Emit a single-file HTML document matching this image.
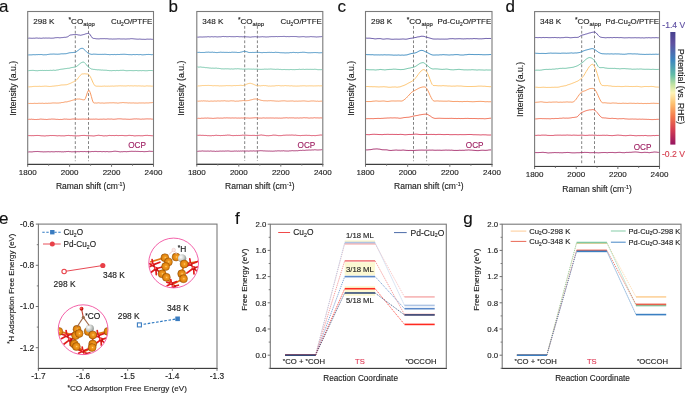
<!DOCTYPE html><html><head><meta charset="utf-8"><style>html,body{margin:0;padding:0;background:#fff;overflow:hidden}svg{display:block;will-change:transform;}text{font-family:"Liberation Sans", sans-serif;}</style></head><body>
<svg width="685" height="393" viewBox="0 0 685 393">
<rect width="685" height="393" fill="#fff"/>
<rect x="27.70" y="11.50" width="125.80" height="152.70" fill="none" stroke="#7a7a7a" stroke-width="1.1"/>
<line x1="27.20" y1="164.50" x2="154.00" y2="164.50" stroke="#3e3e3e" stroke-width="1"/>
<line x1="27.70" y1="164.20" x2="27.70" y2="166.80" stroke="#6e6e6e" stroke-width="1"/>
<text x="27.70" y="174.60" font-size="8.0" text-anchor="middle" fill="#222" stroke="#222" stroke-width="0.14" >1800</text>
<line x1="48.67" y1="164.20" x2="48.67" y2="165.80" stroke="#6e6e6e" stroke-width="0.9"/>
<line x1="69.63" y1="164.20" x2="69.63" y2="166.80" stroke="#6e6e6e" stroke-width="1"/>
<text x="69.63" y="174.60" font-size="8.0" text-anchor="middle" fill="#222" stroke="#222" stroke-width="0.14" >2000</text>
<line x1="90.60" y1="164.20" x2="90.60" y2="165.80" stroke="#6e6e6e" stroke-width="0.9"/>
<line x1="111.57" y1="164.20" x2="111.57" y2="166.80" stroke="#6e6e6e" stroke-width="1"/>
<text x="111.57" y="174.60" font-size="8.0" text-anchor="middle" fill="#222" stroke="#222" stroke-width="0.14" >2200</text>
<line x1="132.53" y1="164.20" x2="132.53" y2="165.80" stroke="#6e6e6e" stroke-width="0.9"/>
<line x1="153.50" y1="164.20" x2="153.50" y2="166.80" stroke="#6e6e6e" stroke-width="1"/>
<text x="153.50" y="174.60" font-size="8.0" text-anchor="middle" fill="#222" stroke="#222" stroke-width="0.14" >2400</text>
<line x1="75.30" y1="26" x2="75.30" y2="161.20" stroke="#5a5a5a" stroke-width="0.75" stroke-dasharray="2.8,2.0"/>
<line x1="88.50" y1="26" x2="88.50" y2="161.20" stroke="#5a5a5a" stroke-width="0.75" stroke-dasharray="2.8,2.0"/>
<path d="M28.3,38.22L29.3,38.13L30.3,38.20L31.3,38.25L32.3,38.29L33.3,38.19L34.3,38.25L35.3,38.14L36.3,38.01L37.3,38.07L38.3,38.24L39.3,38.13L40.3,38.24L41.3,38.31L42.3,38.18L43.3,38.01L44.3,38.14L45.3,38.04L46.3,38.05L47.3,38.10L48.3,38.05L49.3,38.06L50.3,38.16L51.3,38.20L52.3,38.17L53.3,38.14L54.3,37.95L55.3,37.74L56.3,37.70L57.3,37.60L58.3,37.63L59.3,37.79L60.3,37.78L61.3,37.64L62.3,37.60L63.3,37.47L64.3,37.32L65.3,37.35L66.3,37.16L67.3,36.92L68.3,36.39L69.3,35.55L70.3,35.06L71.3,34.92L72.3,34.77L73.3,34.60L74.3,34.65L75.3,34.51L76.3,34.53L77.3,34.68L78.3,34.95L79.3,35.02L80.3,35.28L81.3,35.12L82.3,34.87L83.3,34.61L84.3,34.42L85.3,33.97L86.3,33.71L87.3,33.48L88.3,33.26L89.3,33.67L90.3,34.94L91.3,36.50L92.3,37.90L93.3,38.39L94.3,38.44L95.3,38.62L96.3,38.79L97.3,38.82L98.3,38.89L99.3,38.86L100.3,38.70L101.3,38.70L102.3,38.68L103.3,38.68L104.3,38.62L105.3,38.72L106.3,38.70L107.3,38.73L108.3,38.86L109.3,38.99L110.3,38.96L111.3,38.96L112.3,39.08L113.3,39.01L114.3,39.01L115.3,38.98L116.3,38.98L117.3,38.89L118.3,38.87L119.3,38.84L120.3,38.96L121.3,38.98L122.3,38.99L123.3,38.95L124.3,38.96L125.3,39.05L126.3,39.03L127.3,38.94L128.3,38.91L129.3,38.94L130.3,38.74L131.3,38.68L132.3,38.70L133.3,38.80L134.3,38.91L135.3,39.01L136.3,39.10L137.3,39.17L138.3,39.19L139.3,39.08L140.3,39.13L141.3,39.24L142.3,39.30L143.3,39.29L144.3,39.34L145.3,39.39L146.3,39.23L147.3,39.13L148.3,39.18L149.3,39.20L150.3,39.14L151.3,39.25L152.3,39.34L152.9,39.35" fill="none" stroke="#6151a3" stroke-width="0.95" stroke-linejoin="round"/>
<path d="M28.3,54.95L29.3,54.89L30.3,54.86L31.3,54.88L32.3,54.78L33.3,54.68L34.3,54.71L35.3,54.76L36.3,54.64L37.3,54.66L38.3,54.55L39.3,54.58L40.3,54.55L41.3,54.53L42.3,54.66L43.3,54.84L44.3,54.79L45.3,54.76L46.3,54.77L47.3,54.54L48.3,54.42L49.3,54.27L50.3,54.15L51.3,54.14L52.3,54.11L53.3,54.05L54.3,54.08L55.3,54.17L56.3,54.17L57.3,54.23L58.3,54.17L59.3,54.14L60.3,53.97L61.3,53.83L62.3,53.82L63.3,53.84L64.3,53.78L65.3,53.74L66.3,53.65L67.3,53.38L68.3,53.12L69.3,52.84L70.3,52.73L71.3,52.61L72.3,52.60L73.3,52.44L74.3,52.44L75.3,52.23L76.3,51.76L77.3,50.98L78.3,50.31L79.3,49.41L80.3,48.76L81.3,48.41L82.3,48.30L83.3,48.68L84.3,49.60L85.3,50.52L86.3,51.57L87.3,52.60L88.3,53.34L89.3,53.73L90.3,54.05L91.3,54.32L92.3,54.34L93.3,54.15L94.3,54.17L95.3,54.19L96.3,54.27L97.3,54.35L98.3,54.39L99.3,54.38L100.3,54.37L101.3,54.40L102.3,54.33L103.3,54.38L104.3,54.27L105.3,54.30L106.3,54.38L107.3,54.53L108.3,54.51L109.3,54.66L110.3,54.65L111.3,54.53L112.3,54.54L113.3,54.62L114.3,54.45L115.3,54.62L116.3,54.59L117.3,54.46L118.3,54.49L119.3,54.54L120.3,54.39L121.3,54.36L122.3,54.33L123.3,54.29L124.3,54.27L125.3,54.34L126.3,54.41L127.3,54.49L128.3,54.58L129.3,54.63L130.3,54.63L131.3,54.74L132.3,54.68L133.3,54.51L134.3,54.60L135.3,54.66L136.3,54.52L137.3,54.53L138.3,54.66L139.3,54.67L140.3,54.53L141.3,54.69L142.3,54.84L143.3,54.81L144.3,54.70L145.3,54.68L146.3,54.49L147.3,54.51L148.3,54.43L149.3,54.49L150.3,54.53L151.3,54.70L152.3,54.60L152.9,54.70" fill="none" stroke="#3c8bc0" stroke-width="0.95" stroke-linejoin="round"/>
<path d="M28.3,70.71L29.3,70.58L30.3,70.47L31.3,70.44L32.3,70.36L33.3,70.38L34.3,70.50L35.3,70.63L36.3,70.67L37.3,70.75L38.3,70.60L39.3,70.54L40.3,70.44L41.3,70.51L42.3,70.38L43.3,70.52L44.3,70.43L45.3,70.54L46.3,70.41L47.3,70.48L48.3,70.48L49.3,70.46L50.3,70.31L51.3,70.41L52.3,70.39L53.3,70.17L54.3,70.30L55.3,70.40L56.3,70.12L57.3,69.99L58.3,69.87L59.3,69.58L60.3,69.37L61.3,69.23L62.3,69.14L63.3,68.97L64.3,68.79L65.3,68.67L66.3,68.57L67.3,68.36L68.3,68.31L69.3,68.21L70.3,67.92L71.3,67.64L72.3,67.48L73.3,67.32L74.3,67.16L75.3,66.92L76.3,66.58L77.3,65.88L78.3,65.08L79.3,64.23L80.3,63.37L81.3,62.71L82.3,62.27L83.3,62.07L84.3,62.46L85.3,63.47L86.3,64.63L87.3,65.97L88.3,66.94L89.3,67.64L90.3,68.32L91.3,68.97L92.3,69.13L93.3,69.36L94.3,69.40L95.3,69.60L96.3,69.66L97.3,69.84L98.3,69.77L99.3,69.90L100.3,69.93L101.3,70.10L102.3,70.02L103.3,70.16L104.3,70.20L105.3,70.22L106.3,70.22L107.3,70.44L108.3,70.46L109.3,70.64L110.3,70.62L111.3,70.72L112.3,70.60L113.3,70.54L114.3,70.50L115.3,70.66L116.3,70.47L117.3,70.45L118.3,70.58L119.3,70.49L120.3,70.35L121.3,70.35L122.3,70.30L123.3,70.27L124.3,70.42L125.3,70.59L126.3,70.70L127.3,70.70L128.3,70.63L129.3,70.59L130.3,70.56L131.3,70.59L132.3,70.63L133.3,70.68L134.3,70.61L135.3,70.57L136.3,70.49L137.3,70.65L138.3,70.73L139.3,70.66L140.3,70.59L141.3,70.73L142.3,70.58L143.3,70.59L144.3,70.67L145.3,70.76L146.3,70.73L147.3,70.71L148.3,70.57L149.3,70.52L150.3,70.51L151.3,70.51L152.3,70.57L152.9,70.65" fill="none" stroke="#6fc3a6" stroke-width="0.95" stroke-linejoin="round"/>
<path d="M28.3,86.83L29.3,86.88L30.3,86.76L31.3,86.73L32.3,86.58L33.3,86.45L34.3,86.40L35.3,86.36L36.3,86.41L37.3,86.39L38.3,86.38L39.3,86.29L40.3,86.42L41.3,86.41L42.3,86.33L43.3,86.30L44.3,86.20L45.3,86.17L46.3,86.18L47.3,86.31L48.3,86.39L49.3,86.48L50.3,86.45L51.3,86.39L52.3,86.21L53.3,86.15L54.3,86.03L55.3,85.91L56.3,85.78L57.3,85.73L58.3,85.53L59.3,85.41L60.3,85.20L61.3,84.99L62.3,84.95L63.3,84.91L64.3,84.89L65.3,84.81L66.3,84.74L67.3,84.52L68.3,84.13L69.3,83.76L70.3,83.36L71.3,82.90L72.3,82.35L73.3,81.98L74.3,81.39L75.3,80.86L76.3,80.22L77.3,79.18L78.3,77.82L79.3,76.57L80.3,75.35L81.3,74.40L82.3,73.94L83.3,73.93L84.3,73.78L85.3,73.83L86.3,73.96L87.3,73.99L88.3,74.12L89.3,75.15L90.3,76.65L91.3,78.60L92.3,81.01L93.3,83.23L94.3,84.92L95.3,85.98L96.3,86.18L97.3,86.19L98.3,86.20L99.3,86.24L100.3,86.25L101.3,86.34L102.3,86.23L103.3,86.20L104.3,86.05L105.3,86.22L106.3,86.16L107.3,86.24L108.3,86.12L109.3,86.23L110.3,86.14L111.3,86.14L112.3,86.06L113.3,86.17L114.3,86.10L115.3,86.04L116.3,85.94L117.3,86.01L118.3,85.88L119.3,85.85L120.3,85.80L121.3,85.90L122.3,85.87L123.3,85.96L124.3,85.92L125.3,86.00L126.3,85.93L127.3,85.83L128.3,85.71L129.3,85.91L130.3,85.84L131.3,85.83L132.3,85.87L133.3,86.00L134.3,85.79L135.3,85.87L136.3,85.88L137.3,86.00L138.3,85.87L139.3,85.92L140.3,85.93L141.3,86.06L142.3,85.98L143.3,86.08L144.3,86.16L145.3,86.11L146.3,85.90L147.3,85.90L148.3,85.99L149.3,86.00L150.3,85.99L151.3,86.13L152.3,86.16L152.9,86.07" fill="none" stroke="#fdc36e" stroke-width="0.95" stroke-linejoin="round"/>
<path d="M28.3,103.38L29.3,103.50L30.3,103.43L31.3,103.46L32.3,103.46L33.3,103.46L34.3,103.32L35.3,103.40L36.3,103.43L37.3,103.44L38.3,103.32L39.3,103.29L40.3,103.34L41.3,103.33L42.3,103.21L43.3,103.36L44.3,103.44L45.3,103.27L46.3,103.31L47.3,103.39L48.3,103.24L49.3,103.24L50.3,103.22L51.3,103.15L52.3,103.00L53.3,102.96L54.3,102.98L55.3,102.98L56.3,103.05L57.3,103.05L58.3,103.05L59.3,102.93L60.3,102.89L61.3,102.59L62.3,102.52L63.3,102.41L64.3,102.14L65.3,101.89L66.3,101.93L67.3,101.75L68.3,101.43L69.3,101.23L70.3,100.96L71.3,100.64L72.3,100.34L73.3,100.02L74.3,99.82L75.3,99.56L76.3,99.25L77.3,99.01L78.3,99.08L79.3,98.96L80.3,99.19L81.3,99.35L82.3,99.65L83.3,99.80L84.3,99.96L85.3,98.71L86.3,95.94L87.3,92.76L88.3,90.54L89.3,90.45L90.3,92.78L91.3,96.27L92.3,99.96L93.3,102.53L94.3,103.02L95.3,102.94L96.3,103.05L97.3,102.98L98.3,102.78L99.3,102.92L100.3,103.09L101.3,103.03L102.3,102.98L103.3,103.10L104.3,103.15L105.3,103.00L106.3,102.97L107.3,102.93L108.3,102.94L109.3,102.83L110.3,102.83L111.3,102.85L112.3,102.81L113.3,102.74L114.3,102.85L115.3,102.91L116.3,102.89L117.3,103.08L118.3,103.09L119.3,102.92L120.3,102.80L121.3,102.76L122.3,102.60L123.3,102.57L124.3,102.70L125.3,102.75L126.3,102.76L127.3,102.85L128.3,102.99L129.3,102.86L130.3,102.97L131.3,102.99L132.3,102.98L133.3,102.90L134.3,103.04L135.3,103.03L136.3,103.06L137.3,103.12L138.3,103.06L139.3,102.93L140.3,102.98L141.3,102.98L142.3,102.96L143.3,102.94L144.3,103.06L145.3,102.98L146.3,102.91L147.3,102.94L148.3,102.97L149.3,102.84L150.3,102.76L151.3,102.72L152.3,102.58L152.9,102.51" fill="none" stroke="#f7955c" stroke-width="0.95" stroke-linejoin="round"/>
<path d="M28.3,119.38L29.3,119.26L30.3,119.37L31.3,119.16L32.3,119.35L33.3,119.34L34.3,119.49L35.3,119.49L36.3,119.53L37.3,119.41L38.3,119.42L39.3,119.29L40.3,119.12L41.3,119.12L42.3,119.23L43.3,119.26L44.3,119.38L45.3,119.36L46.3,119.51L47.3,119.44L48.3,119.29L49.3,119.21L50.3,119.26L51.3,119.07L52.3,119.08L53.3,119.10L54.3,119.13L55.3,119.23L56.3,119.36L57.3,119.32L58.3,119.43L59.3,119.52L60.3,119.42L61.3,119.48L62.3,119.40L63.3,119.23L64.3,119.05L65.3,119.15L66.3,119.09L67.3,119.24L68.3,119.27L69.3,119.34L70.3,119.33L71.3,119.19L72.3,119.06L73.3,119.00L74.3,119.00L75.3,118.98L76.3,119.08L77.3,119.14L78.3,119.24L79.3,119.17L80.3,119.19L81.3,119.15L82.3,119.11L83.3,119.06L84.3,119.20L85.3,119.06L86.3,119.18L87.3,119.20L88.3,119.23L89.3,119.06L90.3,119.19L91.3,119.16L92.3,119.19L93.3,119.11L94.3,119.20L95.3,119.08L96.3,119.09L97.3,119.19L98.3,119.32L99.3,119.28L100.3,119.20L101.3,119.21L102.3,119.21L103.3,119.08L104.3,119.13L105.3,119.22L106.3,119.24L107.3,119.04L108.3,119.01L109.3,119.08L110.3,119.10L111.3,118.99L112.3,119.15L113.3,119.26L114.3,119.22L115.3,119.15L116.3,119.07L117.3,118.90L118.3,118.84L119.3,118.82L120.3,118.85L121.3,118.90L122.3,119.04L123.3,119.12L124.3,119.10L125.3,119.08L126.3,119.19L127.3,119.22L128.3,119.26L129.3,119.33L130.3,119.26L131.3,119.22L132.3,119.12L133.3,119.01L134.3,118.92L135.3,118.95L136.3,118.85L137.3,118.99L138.3,118.98L139.3,119.06L140.3,119.18L141.3,119.19L142.3,119.04L143.3,119.10L144.3,119.05L145.3,118.97L146.3,118.91L147.3,118.88L148.3,118.93L149.3,118.94L150.3,118.88L151.3,119.05L152.3,119.15L152.9,119.06" fill="none" stroke="#ef6d52" stroke-width="0.95" stroke-linejoin="round"/>
<path d="M28.3,135.61L29.3,135.62L30.3,135.62L31.3,135.68L32.3,135.63L33.3,135.68L34.3,135.58L35.3,135.56L36.3,135.49L37.3,135.46L38.3,135.49L39.3,135.55L40.3,135.66L41.3,135.80L42.3,135.82L43.3,135.85L44.3,135.96L45.3,135.94L46.3,135.73L47.3,135.78L48.3,135.72L49.3,135.61L50.3,135.51L51.3,135.57L52.3,135.53L53.3,135.56L54.3,135.57L55.3,135.62L56.3,135.69L57.3,135.84L58.3,135.73L59.3,135.67L60.3,135.79L61.3,135.83L62.3,135.80L63.3,135.85L64.3,135.89L65.3,135.71L66.3,135.59L67.3,135.52L68.3,135.42L69.3,135.52L70.3,135.65L71.3,135.58L72.3,135.67L73.3,135.76L74.3,135.81L75.3,135.75L76.3,135.93L77.3,135.84L78.3,135.87L79.3,135.77L80.3,135.67L81.3,135.53L82.3,135.48L83.3,135.44L84.3,135.41L85.3,135.52L86.3,135.64L87.3,135.67L88.3,135.65L89.3,135.68L90.3,135.78L91.3,135.80L92.3,135.86L93.3,135.97L94.3,135.91L95.3,135.72L96.3,135.57L97.3,135.45L98.3,135.27L99.3,135.36L100.3,135.54L101.3,135.54L102.3,135.67L103.3,135.87L104.3,135.90L105.3,135.74L106.3,135.85L107.3,135.76L108.3,135.59L109.3,135.42L110.3,135.50L111.3,135.57L112.3,135.53L113.3,135.53L114.3,135.61L115.3,135.50L116.3,135.40L117.3,135.54L118.3,135.61L119.3,135.53L120.3,135.53L121.3,135.47L122.3,135.46L123.3,135.56L124.3,135.66L125.3,135.68L126.3,135.68L127.3,135.63L128.3,135.45L129.3,135.36L130.3,135.43L131.3,135.57L132.3,135.53L133.3,135.70L134.3,135.87L135.3,135.87L136.3,135.73L137.3,135.72L138.3,135.67L139.3,135.66L140.3,135.76L141.3,135.75L142.3,135.81L143.3,135.67L144.3,135.55L145.3,135.43L146.3,135.41L147.3,135.33L148.3,135.54L149.3,135.54L150.3,135.59L151.3,135.68L152.3,135.79L152.9,135.64" fill="none" stroke="#d8435f" stroke-width="0.95" stroke-linejoin="round"/>
<path d="M28.3,151.99L29.3,151.86L30.3,151.88L31.3,151.92L32.3,151.89L33.3,151.70L34.3,151.64L35.3,151.55L36.3,151.56L37.3,151.47L38.3,151.55L39.3,151.62L40.3,151.72L41.3,151.76L42.3,151.79L43.3,151.90L44.3,151.84L45.3,151.83L46.3,151.81L47.3,151.76L48.3,151.69L49.3,151.80L50.3,151.83L51.3,151.68L52.3,151.76L53.3,151.80L54.3,151.82L55.3,151.67L56.3,151.64L57.3,151.73L58.3,151.64L59.3,151.72L60.3,151.68L61.3,151.84L62.3,151.81L63.3,151.90L64.3,151.69L65.3,151.74L66.3,151.57L67.3,151.55L68.3,151.43L69.3,151.63L70.3,151.63L71.3,151.79L72.3,151.81L73.3,151.78L74.3,151.69L75.3,151.82L76.3,151.77L77.3,151.65L78.3,151.66L79.3,151.71L80.3,151.54L81.3,151.55L82.3,151.59L83.3,151.65L84.3,151.51L85.3,151.61L86.3,151.68L87.3,151.62L88.3,151.57L89.3,151.74L90.3,151.72L91.3,151.58L92.3,151.51L93.3,151.60L94.3,151.48L95.3,151.45L96.3,151.45L97.3,151.58L98.3,151.58L99.3,151.57L100.3,151.48L101.3,151.63L102.3,151.69L103.3,151.54L104.3,151.59L105.3,151.72L106.3,151.59L107.3,151.55L108.3,151.76L109.3,151.76L110.3,151.70L111.3,151.65L112.3,151.54L113.3,151.36L114.3,151.25L115.3,151.21L116.3,151.35L117.3,151.42L118.3,151.56L119.3,151.73L120.3,151.86L121.3,151.69L122.3,151.77L123.3,151.61L124.3,151.58L125.3,151.58L126.3,151.72L127.3,151.60L128.3,151.59L129.3,151.44L130.3,151.40L131.3,151.30L132.3,151.33L133.3,151.37L134.3,151.39L135.3,151.31L136.3,151.41L137.3,151.40L138.3,151.43L139.3,151.50L140.3,151.55L141.3,151.51L142.3,151.49L143.3,151.62L144.3,151.68L145.3,151.60L146.3,151.56L147.3,151.50L148.3,151.37L149.3,151.20L150.3,151.32L151.3,151.37L152.3,151.42L152.9,151.44" fill="none" stroke="#a52c6c" stroke-width="0.95" stroke-linejoin="round"/>
<text x="-1.00" y="12.00" font-size="17" text-anchor="start" fill="#111" stroke="#111" stroke-width="0.14" >a</text>
<text x="33.20" y="24.00" font-size="8.1" text-anchor="start" fill="#1e1e1e" stroke="#1e1e1e" stroke-width="0.14" >298 K</text>
<text x="68.50" y="23.5" font-size="8.1" fill="#1e1e1e" stroke="#1e1e1e" stroke-width="0.14"><tspan font-size="6.6" dy="-1.3">*</tspan><tspan dy="1.3">CO</tspan><tspan font-size="5.9" dy="2.0">atop</tspan></text>
<text x="111.00" y="23.9" font-size="7.9" fill="#1e1e1e" stroke="#1e1e1e" stroke-width="0.14">Cu<tspan font-size="4.84" dy="1.72">2</tspan><tspan dy="-1.72">O/PTFE</tspan></text>
<text x="137.00" y="148.10" font-size="8.2" text-anchor="middle" fill="#9e1f62" stroke="#9e1f62" stroke-width="0.14" >OCP</text>
<text x="90.60" y="189.20" font-size="8.5" text-anchor="middle" fill="#222" stroke="#222" stroke-width="0.14">Raman shift (cm<tspan font-size="5.3" dy="-3">-1</tspan><tspan dy="3">)</tspan></text>
<text transform="translate(15.70,88.35) rotate(-90)" font-size="8.7" text-anchor="middle" fill="#222" stroke="#222" stroke-width="0.14">Intensity (a.u.)</text>
<rect x="196.80" y="11.50" width="126.00" height="152.50" fill="none" stroke="#7a7a7a" stroke-width="1.1"/>
<line x1="196.30" y1="164.50" x2="323.30" y2="164.50" stroke="#3e3e3e" stroke-width="1"/>
<line x1="196.80" y1="164.00" x2="196.80" y2="166.60" stroke="#6e6e6e" stroke-width="1"/>
<text x="196.80" y="174.60" font-size="8.0" text-anchor="middle" fill="#222" stroke="#222" stroke-width="0.14" >1800</text>
<line x1="217.80" y1="164.00" x2="217.80" y2="165.60" stroke="#6e6e6e" stroke-width="0.9"/>
<line x1="238.80" y1="164.00" x2="238.80" y2="166.60" stroke="#6e6e6e" stroke-width="1"/>
<text x="238.80" y="174.60" font-size="8.0" text-anchor="middle" fill="#222" stroke="#222" stroke-width="0.14" >2000</text>
<line x1="259.80" y1="164.00" x2="259.80" y2="165.60" stroke="#6e6e6e" stroke-width="0.9"/>
<line x1="280.80" y1="164.00" x2="280.80" y2="166.60" stroke="#6e6e6e" stroke-width="1"/>
<text x="280.80" y="174.60" font-size="8.0" text-anchor="middle" fill="#222" stroke="#222" stroke-width="0.14" >2200</text>
<line x1="301.80" y1="164.00" x2="301.80" y2="165.60" stroke="#6e6e6e" stroke-width="0.9"/>
<line x1="322.80" y1="164.00" x2="322.80" y2="166.60" stroke="#6e6e6e" stroke-width="1"/>
<text x="322.80" y="174.60" font-size="8.0" text-anchor="middle" fill="#222" stroke="#222" stroke-width="0.14" >2400</text>
<line x1="244.70" y1="26" x2="244.70" y2="161.00" stroke="#5a5a5a" stroke-width="0.75" stroke-dasharray="2.8,2.0"/>
<line x1="257.40" y1="26" x2="257.40" y2="161.00" stroke="#5a5a5a" stroke-width="0.75" stroke-dasharray="2.8,2.0"/>
<path d="M197.4,37.11L198.4,37.15L199.4,37.03L200.4,36.97L201.4,37.01L202.4,37.04L203.4,36.96L204.4,36.94L205.4,36.89L206.4,36.91L207.4,36.75L208.4,36.69L209.4,36.86L210.4,36.87L211.4,36.70L212.4,36.74L213.4,36.87L214.4,36.74L215.4,36.73L216.4,36.83L217.4,36.93L218.4,36.84L219.4,36.79L220.4,36.82L221.4,36.69L222.4,36.53L223.4,36.46L224.4,36.60L225.4,36.54L226.4,36.68L227.4,36.69L228.4,36.68L229.4,36.53L230.4,36.62L231.4,36.66L232.4,36.67L233.4,36.70L234.4,36.70L235.4,36.68L236.4,36.56L237.4,36.54L238.4,36.63L239.4,36.76L240.4,36.72L241.4,36.69L242.4,36.80L243.4,36.78L244.4,36.74L245.4,36.68L246.4,36.85L247.4,36.90L248.4,36.93L249.4,37.05L250.4,37.14L251.4,37.01L252.4,36.85L253.4,36.83L254.4,36.73L255.4,36.70L256.4,36.84L257.4,37.00L258.4,36.89L259.4,36.97L260.4,36.87L261.4,36.80L262.4,36.68L263.4,36.82L264.4,36.83L265.4,36.95L266.4,36.97L267.4,36.92L268.4,36.90L269.4,36.72L270.4,36.70L271.4,36.61L272.4,36.61L273.4,36.63L274.4,36.62L275.4,36.58L276.4,36.53L277.4,36.66L278.4,36.56L279.4,36.55L280.4,36.50L281.4,36.53L282.4,36.49L283.4,36.43L284.4,36.42L285.4,36.56L286.4,36.63L287.4,36.55L288.4,36.62L289.4,36.64L290.4,36.55L291.4,36.52L292.4,36.54L293.4,36.52L294.4,36.54L295.4,36.54L296.4,36.58L297.4,36.73L298.4,36.83L299.4,36.87L300.4,36.81L301.4,36.73L302.4,36.67L303.4,36.62L304.4,36.71L305.4,36.91L306.4,36.93L307.4,36.87L308.4,36.85L309.4,36.81L310.4,36.63L311.4,36.63L312.4,36.74L313.4,36.76L314.4,36.82L315.4,36.89L316.4,37.01L317.4,36.92L318.4,36.86L319.4,36.77L320.4,36.73L321.4,36.62L322.2,36.58" fill="none" stroke="#6151a3" stroke-width="0.95" stroke-linejoin="round"/>
<path d="M197.4,52.40L198.4,52.39L199.4,52.33L200.4,52.47L201.4,52.49L202.4,52.47L203.4,52.47L204.4,52.48L205.4,52.30L206.4,52.21L207.4,52.22L208.4,52.13L209.4,52.25L210.4,52.30L211.4,52.27L212.4,52.15L213.4,52.36L214.4,52.34L215.4,52.48L216.4,52.57L217.4,52.57L218.4,52.42L219.4,52.37L220.4,52.20L221.4,52.27L222.4,52.35L223.4,52.31L224.4,52.38L225.4,52.38L226.4,52.38L227.4,52.40L228.4,52.48L229.4,52.38L230.4,52.46L231.4,52.29L232.4,52.20L233.4,52.27L234.4,52.25L235.4,52.31L236.4,52.32L237.4,52.52L238.4,52.51L239.4,52.49L240.4,52.25L241.4,52.06L242.4,51.76L243.4,51.43L244.4,51.35L245.4,51.50L246.4,51.65L247.4,51.96L248.4,52.38L249.4,52.53L250.4,52.47L251.4,52.53L252.4,52.42L253.4,52.45L254.4,52.45L255.4,52.38L256.4,52.31L257.4,52.39L258.4,52.39L259.4,52.42L260.4,52.53L261.4,52.63L262.4,52.65L263.4,52.48L264.4,52.51L265.4,52.53L266.4,52.55L267.4,52.43L268.4,52.42L269.4,52.37L270.4,52.45L271.4,52.39L272.4,52.49L273.4,52.52L274.4,52.47L275.4,52.28L276.4,52.39L277.4,52.43L278.4,52.45L279.4,52.58L280.4,52.71L281.4,52.73L282.4,52.78L283.4,52.78L284.4,52.85L285.4,52.92L286.4,52.85L287.4,52.84L288.4,52.86L289.4,52.72L290.4,52.57L291.4,52.63L292.4,52.47L293.4,52.38L294.4,52.48L295.4,52.60L296.4,52.51L297.4,52.66L298.4,52.66L299.4,52.54L300.4,52.43L301.4,52.42L302.4,52.28L303.4,52.28L304.4,52.30L305.4,52.43L306.4,52.56L307.4,52.69L308.4,52.78L309.4,52.76L310.4,52.78L311.4,52.68L312.4,52.68L313.4,52.58L314.4,52.57L315.4,52.55L316.4,52.61L317.4,52.64L318.4,52.77L319.4,52.82L320.4,52.77L321.4,52.73L322.2,52.64" fill="none" stroke="#3c8bc0" stroke-width="0.95" stroke-linejoin="round"/>
<path d="M197.4,66.89L198.4,67.12L199.4,67.10L200.4,66.98L201.4,67.15L202.4,67.29L203.4,67.32L204.4,67.40L205.4,67.65L206.4,67.64L207.4,67.76L208.4,67.84L209.4,68.00L210.4,68.06L211.4,68.21L212.4,68.15L213.4,68.20L214.4,68.24L215.4,68.17L216.4,68.11L217.4,68.35L218.4,68.34L219.4,68.47L220.4,68.62L221.4,68.84L222.4,68.83L223.4,68.90L224.4,68.87L225.4,68.79L226.4,68.83L227.4,68.81L228.4,68.85L229.4,68.95L230.4,69.06L231.4,68.90L232.4,69.04L233.4,69.03L234.4,68.88L235.4,68.77L236.4,68.87L237.4,68.71L238.4,68.78L239.4,68.87L240.4,68.99L241.4,68.97L242.4,69.13L243.4,69.14L244.4,69.11L245.4,69.09L246.4,69.14L247.4,69.07L248.4,69.01L249.4,69.07L250.4,69.10L251.4,69.13L252.4,69.19L253.4,69.09L254.4,69.20L255.4,69.19L256.4,69.15L257.4,69.13L258.4,69.32L259.4,69.32L260.4,69.36L261.4,69.37L262.4,69.31L263.4,69.31L264.4,69.14L265.4,69.16L266.4,69.16L267.4,69.22L268.4,69.11L269.4,69.12L270.4,69.01L271.4,69.06L272.4,69.17L273.4,69.24L274.4,69.25L275.4,69.40L276.4,69.30L277.4,69.23L278.4,69.27L279.4,69.44L280.4,69.39L281.4,69.57L282.4,69.60L283.4,69.54L284.4,69.47L285.4,69.59L286.4,69.58L287.4,69.58L288.4,69.63L289.4,69.65L290.4,69.51L291.4,69.53L292.4,69.61L293.4,69.59L294.4,69.66L295.4,69.59L296.4,69.53L297.4,69.50L298.4,69.45L299.4,69.28L300.4,69.44L301.4,69.43L302.4,69.35L303.4,69.29L304.4,69.47L305.4,69.40L306.4,69.34L307.4,69.33L308.4,69.38L309.4,69.37L310.4,69.34L311.4,69.38L312.4,69.36L313.4,69.41L314.4,69.27L315.4,69.31L316.4,69.42L317.4,69.61L318.4,69.69L319.4,69.66L320.4,69.68L321.4,69.64L322.2,69.50" fill="none" stroke="#6fc3a6" stroke-width="0.95" stroke-linejoin="round"/>
<path d="M197.4,86.16L198.4,85.93L199.4,85.91L200.4,85.80L201.4,85.70L202.4,85.54L203.4,85.56L204.4,85.53L205.4,85.48L206.4,85.47L207.4,85.44L208.4,85.42L209.4,85.48L210.4,85.52L211.4,85.54L212.4,85.69L213.4,85.75L214.4,85.61L215.4,85.69L216.4,85.71L217.4,85.69L218.4,85.75L219.4,85.95L220.4,85.85L221.4,85.89L222.4,85.83L223.4,85.82L224.4,85.75L225.4,85.74L226.4,85.59L227.4,85.61L228.4,85.65L229.4,85.63L230.4,85.66L231.4,85.78L232.4,85.72L233.4,85.60L234.4,85.54L235.4,85.62L236.4,85.52L237.4,85.51L238.4,85.49L239.4,85.43L240.4,85.31L241.4,85.39L242.4,85.53L243.4,85.41L244.4,85.17L245.4,84.78L246.4,84.29L247.4,83.88L248.4,83.59L249.4,83.37L250.4,83.31L251.4,83.57L252.4,83.85L253.4,84.28L254.4,84.69L255.4,85.17L256.4,85.52L257.4,85.70L258.4,85.77L259.4,85.76L260.4,85.87L261.4,85.69L262.4,85.66L263.4,85.47L264.4,85.62L265.4,85.57L266.4,85.78L267.4,85.87L268.4,86.08L269.4,86.03L270.4,86.10L271.4,86.06L272.4,85.97L273.4,85.98L274.4,85.95L275.4,85.78L276.4,85.64L277.4,85.67L278.4,85.50L279.4,85.63L280.4,85.80L281.4,85.84L282.4,85.76L283.4,85.84L284.4,85.68L285.4,85.59L286.4,85.72L287.4,85.76L288.4,85.74L289.4,85.90L290.4,85.88L291.4,85.78L292.4,85.93L293.4,86.02L294.4,86.02L295.4,86.07L296.4,86.09L297.4,86.05L298.4,86.05L299.4,86.00L300.4,85.90L301.4,85.88L302.4,85.82L303.4,85.81L304.4,85.79L305.4,85.86L306.4,85.98L307.4,85.92L308.4,85.89L309.4,85.84L310.4,85.85L311.4,85.85L312.4,85.89L313.4,85.96L314.4,85.91L315.4,85.91L316.4,85.85L317.4,85.85L318.4,85.77L319.4,85.86L320.4,85.84L321.4,85.82L322.2,85.89" fill="none" stroke="#fdc36e" stroke-width="0.95" stroke-linejoin="round"/>
<path d="M197.4,101.08L198.4,101.20L199.4,101.08L200.4,101.07L201.4,100.90L202.4,101.03L203.4,100.84L204.4,100.95L205.4,100.96L206.4,101.10L207.4,101.03L208.4,101.19L209.4,101.25L210.4,101.11L211.4,101.05L212.4,101.16L213.4,101.13L214.4,101.01L215.4,101.05L216.4,101.14L217.4,100.95L218.4,100.95L219.4,101.04L220.4,101.00L221.4,100.86L222.4,100.91L223.4,100.86L224.4,100.75L225.4,100.91L226.4,101.04L227.4,101.03L228.4,101.11L229.4,101.04L230.4,100.86L231.4,100.80L232.4,100.90L233.4,100.88L234.4,101.07L235.4,101.24L236.4,101.14L237.4,101.12L238.4,101.14L239.4,100.93L240.4,100.85L241.4,100.81L242.4,100.67L243.4,100.57L244.4,100.68L245.4,100.77L246.4,100.69L247.4,100.62L248.4,100.55L249.4,100.34L250.4,100.01L251.4,99.79L252.4,99.59L253.4,99.23L254.4,99.06L255.4,99.00L256.4,99.03L257.4,99.20L258.4,99.46L259.4,99.73L260.4,100.10L261.4,100.39L262.4,100.52L263.4,100.72L264.4,100.76L265.4,100.78L266.4,100.80L267.4,100.86L268.4,100.76L269.4,100.77L270.4,100.66L271.4,100.72L272.4,100.82L273.4,100.83L274.4,100.96L275.4,101.05L276.4,101.14L277.4,101.10L278.4,101.23L279.4,101.11L280.4,101.05L281.4,100.93L282.4,100.89L283.4,100.83L284.4,100.82L285.4,100.94L286.4,101.07L287.4,101.15L288.4,101.10L289.4,101.09L290.4,101.01L291.4,100.99L292.4,100.95L293.4,101.09L294.4,101.23L295.4,101.18L296.4,101.11L297.4,101.19L298.4,101.13L299.4,101.09L300.4,101.12L301.4,101.04L302.4,100.98L303.4,100.93L304.4,100.95L305.4,101.05L306.4,101.17L307.4,101.26L308.4,101.30L309.4,101.23L310.4,101.09L311.4,100.98L312.4,100.97L313.4,100.94L314.4,101.05L315.4,101.14L316.4,101.29L317.4,101.12L318.4,101.32L319.4,101.29L320.4,101.20L321.4,101.15L322.2,101.31" fill="none" stroke="#f7955c" stroke-width="0.95" stroke-linejoin="round"/>
<path d="M197.4,118.44L198.4,118.30L199.4,118.36L200.4,118.41L201.4,118.21L202.4,118.23L203.4,118.24L204.4,118.11L205.4,118.07L206.4,118.18L207.4,118.00L208.4,118.09L209.4,118.20L210.4,118.22L211.4,118.26L212.4,118.37L213.4,118.40L214.4,118.25L215.4,118.22L216.4,118.14L217.4,118.03L218.4,118.06L219.4,118.16L220.4,118.10L221.4,118.12L222.4,118.18L223.4,118.01L224.4,117.90L225.4,117.98L226.4,117.86L227.4,117.89L228.4,117.96L229.4,117.95L230.4,118.04L231.4,118.03L232.4,117.95L233.4,118.01L234.4,118.03L235.4,117.93L236.4,118.04L237.4,118.09L238.4,118.02L239.4,118.08L240.4,118.09L241.4,117.98L242.4,118.06L243.4,118.01L244.4,117.91L245.4,117.89L246.4,118.05L247.4,118.01L248.4,118.05L249.4,118.14L250.4,118.09L251.4,118.05L252.4,117.98L253.4,117.90L254.4,117.82L255.4,117.79L256.4,117.80L257.4,117.91L258.4,118.06L259.4,118.08L260.4,118.09L261.4,118.15L262.4,118.03L263.4,117.90L264.4,117.98L265.4,118.08L266.4,117.98L267.4,118.00L268.4,118.03L269.4,118.01L270.4,117.97L271.4,118.00L272.4,117.99L273.4,118.00L274.4,118.11L275.4,118.03L276.4,118.04L277.4,118.04L278.4,118.13L279.4,118.07L280.4,118.17L281.4,118.13L282.4,118.09L283.4,117.91L284.4,117.92L285.4,117.85L286.4,117.74L287.4,117.86L288.4,117.99L289.4,117.83L290.4,117.88L291.4,117.89L292.4,117.90L293.4,117.83L294.4,118.02L295.4,118.04L296.4,118.02L297.4,117.92L298.4,118.07L299.4,118.01L300.4,117.91L301.4,117.97L302.4,117.94L303.4,117.75L304.4,117.72L305.4,117.84L306.4,117.80L307.4,117.86L308.4,118.03L309.4,118.09L310.4,117.97L311.4,117.94L312.4,118.02L313.4,117.90L314.4,117.73L315.4,117.87L316.4,117.91L317.4,117.86L318.4,117.94L319.4,117.97L320.4,117.89L321.4,117.95L322.2,117.88" fill="none" stroke="#ef6d52" stroke-width="0.95" stroke-linejoin="round"/>
<path d="M197.4,135.27L198.4,135.33L199.4,135.25L200.4,135.26L201.4,135.38L202.4,135.34L203.4,135.36L204.4,135.46L205.4,135.43L206.4,135.47L207.4,135.68L208.4,135.62L209.4,135.69L210.4,135.73L211.4,135.73L212.4,135.52L213.4,135.64L214.4,135.50L215.4,135.35L216.4,135.27L217.4,135.45L218.4,135.45L219.4,135.49L220.4,135.64L221.4,135.51L222.4,135.54L223.4,135.40L224.4,135.44L225.4,135.28L226.4,135.28L227.4,135.07L228.4,135.14L229.4,135.14L230.4,135.30L231.4,135.47L232.4,135.57L233.4,135.62L234.4,135.54L235.4,135.55L236.4,135.42L237.4,135.54L238.4,135.43L239.4,135.48L240.4,135.40L241.4,135.36L242.4,135.17L243.4,135.21L244.4,135.27L245.4,135.17L246.4,135.24L247.4,135.31L248.4,135.36L249.4,135.42L250.4,135.43L251.4,135.46L252.4,135.40L253.4,135.40L254.4,135.39L255.4,135.53L256.4,135.54L257.4,135.52L258.4,135.37L259.4,135.22L260.4,135.08L261.4,134.98L262.4,135.18L263.4,135.24L264.4,135.38L265.4,135.53L266.4,135.68L267.4,135.66L268.4,135.74L269.4,135.62L270.4,135.55L271.4,135.47L272.4,135.28L273.4,135.13L274.4,135.18L275.4,135.19L276.4,135.32L277.4,135.45L278.4,135.62L279.4,135.60L280.4,135.61L281.4,135.58L282.4,135.45L283.4,135.27L284.4,135.26L285.4,135.20L286.4,135.11L287.4,135.12L288.4,135.15L289.4,135.08L290.4,135.15L291.4,135.06L292.4,135.05L293.4,135.17L294.4,135.24L295.4,135.11L296.4,135.31L297.4,135.41L298.4,135.47L299.4,135.52L300.4,135.63L301.4,135.51L302.4,135.43L303.4,135.43L304.4,135.39L305.4,135.34L306.4,135.28L307.4,135.39L308.4,135.39L309.4,135.39L310.4,135.50L311.4,135.62L312.4,135.60L313.4,135.53L314.4,135.60L315.4,135.63L316.4,135.48L317.4,135.40L318.4,135.31L319.4,135.16L320.4,135.02L321.4,135.05L322.2,135.07" fill="none" stroke="#d8435f" stroke-width="0.95" stroke-linejoin="round"/>
<path d="M197.4,151.40L198.4,151.24L199.4,151.11L200.4,151.15L201.4,151.07L202.4,150.94L203.4,151.07L204.4,151.10L205.4,151.12L206.4,151.15L207.4,151.08L208.4,151.10L209.4,151.19L210.4,151.01L211.4,151.08L212.4,151.23L213.4,151.19L214.4,151.21L215.4,151.41L216.4,151.23L217.4,151.27L218.4,151.25L219.4,151.16L220.4,151.08L221.4,151.15L222.4,151.08L223.4,151.09L224.4,151.15L225.4,151.03L226.4,151.05L227.4,150.97L228.4,150.98L229.4,151.07L230.4,151.21L231.4,151.24L232.4,151.21L233.4,151.20L234.4,151.06L235.4,151.10L236.4,151.02L237.4,151.20L238.4,151.05L239.4,151.16L240.4,151.01L241.4,151.10L242.4,150.98L243.4,151.04L244.4,150.97L245.4,151.07L246.4,151.02L247.4,151.01L248.4,151.11L249.4,151.05L250.4,150.95L251.4,150.98L252.4,151.02L253.4,150.88L254.4,151.01L255.4,151.04L256.4,150.94L257.4,150.90L258.4,150.88L259.4,150.78L260.4,150.70L261.4,150.73L262.4,150.78L263.4,150.92L264.4,150.90L265.4,150.98L266.4,151.03L267.4,151.04L268.4,151.08L269.4,151.06L270.4,151.13L271.4,151.14L272.4,151.20L273.4,151.15L274.4,151.10L275.4,150.94L276.4,151.00L277.4,150.86L278.4,150.84L279.4,150.86L280.4,150.97L281.4,150.88L282.4,150.91L283.4,150.76L284.4,150.93L285.4,150.97L286.4,151.03L287.4,151.04L288.4,151.07L289.4,150.89L290.4,150.87L291.4,150.75L292.4,150.67L293.4,150.78L294.4,150.78L295.4,150.78L296.4,150.71L297.4,150.78L298.4,150.62L299.4,150.53L300.4,150.38L301.4,150.48L302.4,150.27L303.4,150.30L304.4,150.41L305.4,150.28L306.4,150.16L307.4,150.16L308.4,150.09L309.4,150.04L310.4,150.09L311.4,150.01L312.4,149.94L313.4,149.98L314.4,149.79L315.4,149.81L316.4,149.92L317.4,149.99L318.4,149.97L319.4,149.92L320.4,149.86L321.4,149.74L322.2,149.67" fill="none" stroke="#a52c6c" stroke-width="0.95" stroke-linejoin="round"/>
<text x="168.50" y="12.00" font-size="17" text-anchor="start" fill="#111" stroke="#111" stroke-width="0.14" >b</text>
<text x="202.30" y="24.00" font-size="8.1" text-anchor="start" fill="#1e1e1e" stroke="#1e1e1e" stroke-width="0.14" >348 K</text>
<text x="237.90" y="23.5" font-size="8.1" fill="#1e1e1e" stroke="#1e1e1e" stroke-width="0.14"><tspan font-size="6.6" dy="-1.3">*</tspan><tspan dy="1.3">CO</tspan><tspan font-size="5.9" dy="2.0">atop</tspan></text>
<text x="280.50" y="23.9" font-size="7.9" fill="#1e1e1e" stroke="#1e1e1e" stroke-width="0.14">Cu<tspan font-size="4.84" dy="1.72">2</tspan><tspan dy="-1.72">O/PTFE</tspan></text>
<text x="306.40" y="147.90" font-size="8.2" text-anchor="middle" fill="#9e1f62" stroke="#9e1f62" stroke-width="0.14" >OCP</text>
<text x="259.80" y="188.90" font-size="8.5" text-anchor="middle" fill="#222" stroke="#222" stroke-width="0.14">Raman shift (cm<tspan font-size="5.3" dy="-3">-1</tspan><tspan dy="3">)</tspan></text>
<text transform="translate(183.80,88.25) rotate(-90)" font-size="8.7" text-anchor="middle" fill="#222" stroke="#222" stroke-width="0.14">Intensity (a.u.)</text>
<rect x="365.50" y="11.50" width="126.50" height="152.70" fill="none" stroke="#7a7a7a" stroke-width="1.1"/>
<line x1="365.00" y1="164.50" x2="492.50" y2="164.50" stroke="#3e3e3e" stroke-width="1"/>
<line x1="365.50" y1="164.20" x2="365.50" y2="166.80" stroke="#6e6e6e" stroke-width="1"/>
<text x="365.50" y="174.60" font-size="8.0" text-anchor="middle" fill="#222" stroke="#222" stroke-width="0.14" >1800</text>
<line x1="386.58" y1="164.20" x2="386.58" y2="165.80" stroke="#6e6e6e" stroke-width="0.9"/>
<line x1="407.67" y1="164.20" x2="407.67" y2="166.80" stroke="#6e6e6e" stroke-width="1"/>
<text x="407.67" y="174.60" font-size="8.0" text-anchor="middle" fill="#222" stroke="#222" stroke-width="0.14" >2000</text>
<line x1="428.75" y1="164.20" x2="428.75" y2="165.80" stroke="#6e6e6e" stroke-width="0.9"/>
<line x1="449.83" y1="164.20" x2="449.83" y2="166.80" stroke="#6e6e6e" stroke-width="1"/>
<text x="449.83" y="174.60" font-size="8.0" text-anchor="middle" fill="#222" stroke="#222" stroke-width="0.14" >2200</text>
<line x1="470.92" y1="164.20" x2="470.92" y2="165.80" stroke="#6e6e6e" stroke-width="0.9"/>
<line x1="492.00" y1="164.20" x2="492.00" y2="166.80" stroke="#6e6e6e" stroke-width="1"/>
<text x="492.00" y="174.60" font-size="8.0" text-anchor="middle" fill="#222" stroke="#222" stroke-width="0.14" >2400</text>
<line x1="413.50" y1="26" x2="413.50" y2="161.20" stroke="#5a5a5a" stroke-width="0.75" stroke-dasharray="2.8,2.0"/>
<line x1="426.60" y1="26" x2="426.60" y2="161.20" stroke="#5a5a5a" stroke-width="0.75" stroke-dasharray="2.8,2.0"/>
<path d="M366.1,38.08L367.1,38.20L368.1,38.19L369.1,38.16L370.1,38.21L371.1,38.37L372.1,38.47L373.1,38.55L374.1,38.75L375.1,38.91L376.1,38.85L377.1,38.68L378.1,38.64L379.1,38.64L380.1,38.58L381.1,38.76L382.1,38.99L383.1,39.13L384.1,39.09L385.1,39.00L386.1,38.83L387.1,38.82L388.1,38.85L389.1,38.93L390.1,39.06L391.1,39.23L392.1,39.22L393.1,39.29L394.1,39.17L395.1,39.17L396.1,39.11L397.1,39.17L398.1,39.18L399.1,39.22L400.1,39.14L401.1,39.14L402.1,39.03L403.1,39.01L404.1,39.05L405.1,39.20L406.1,39.16L407.1,39.09L408.1,38.80L409.1,38.64L410.1,38.36L411.1,38.25L412.1,38.12L413.1,37.99L414.1,37.68L415.1,37.58L416.1,37.39L417.1,37.07L418.1,36.85L419.1,36.85L420.1,36.54L421.1,36.27L422.1,36.24L423.1,36.28L424.1,36.38L425.1,36.79L426.1,37.16L427.1,37.38L428.1,37.62L429.1,37.89L430.1,38.17L431.1,38.48L432.1,38.78L433.1,38.97L434.1,39.04L435.1,39.04L436.1,39.08L437.1,39.00L438.1,39.04L439.1,39.06L440.1,39.13L441.1,39.07L442.1,39.09L443.1,39.07L444.1,39.14L445.1,39.09L446.1,39.08L447.1,39.11L448.1,38.97L449.1,38.83L450.1,38.71L451.1,38.75L452.1,38.65L453.1,38.70L454.1,38.79L455.1,38.91L456.1,38.79L457.1,38.82L458.1,38.73L459.1,38.73L460.1,38.69L461.1,38.85L462.1,38.80L463.1,38.97L464.1,38.81L465.1,38.88L466.1,38.77L467.1,38.72L468.1,38.73L469.1,38.87L470.1,38.71L471.1,38.74L472.1,38.82L473.1,38.64L474.1,38.53L475.1,38.69L476.1,38.64L477.1,38.69L478.1,38.82L479.1,38.88L480.1,38.79L481.1,38.89L482.1,38.79L483.1,38.72L484.1,38.64L485.1,38.51L486.1,38.41L487.1,38.50L488.1,38.51L489.1,38.44L490.1,38.52L491.1,38.51" fill="none" stroke="#6151a3" stroke-width="0.95" stroke-linejoin="round"/>
<path d="M366.1,54.54L367.1,54.68L368.1,54.65L369.1,54.68L370.1,54.71L371.1,54.79L372.1,54.67L373.1,54.81L374.1,54.93L375.1,54.92L376.1,54.87L377.1,54.94L378.1,54.87L379.1,54.95L380.1,54.94L381.1,54.83L382.1,54.94L383.1,54.95L384.1,54.77L385.1,54.83L386.1,54.91L387.1,54.91L388.1,54.87L389.1,54.88L390.1,54.94L391.1,54.98L392.1,54.99L393.1,55.13L394.1,55.16L395.1,55.08L396.1,55.14L397.1,55.15L398.1,54.98L399.1,55.06L400.1,55.21L401.1,55.17L402.1,55.00L403.1,55.17L404.1,55.17L405.1,55.02L406.1,54.97L407.1,54.85L408.1,54.50L409.1,54.18L410.1,53.95L411.1,53.62L412.1,53.42L413.1,53.32L414.1,53.17L415.1,52.93L416.1,52.61L417.1,52.17L418.1,51.60L419.1,51.03L420.1,50.66L421.1,50.40L422.1,50.41L423.1,50.63L424.1,51.05L425.1,51.60L426.1,52.09L427.1,52.51L428.1,52.99L429.1,53.55L430.1,54.06L431.1,54.51L432.1,54.89L433.1,55.04L434.1,55.05L435.1,55.03L436.1,54.98L437.1,54.94L438.1,55.02L439.1,54.94L440.1,54.78L441.1,54.90L442.1,54.75L443.1,54.67L444.1,54.71L445.1,54.84L446.1,54.81L447.1,54.89L448.1,54.95L449.1,55.04L450.1,54.94L451.1,54.83L452.1,54.86L453.1,54.88L454.1,54.71L455.1,54.67L456.1,54.61L457.1,54.63L458.1,54.64L459.1,54.84L460.1,54.98L461.1,55.00L462.1,55.00L463.1,55.06L464.1,54.91L465.1,54.74L466.1,54.76L467.1,54.65L468.1,54.46L469.1,54.39L470.1,54.41L471.1,54.51L472.1,54.45L473.1,54.54L474.1,54.57L475.1,54.58L476.1,54.56L477.1,54.61L478.1,54.51L479.1,54.56L480.1,54.66L481.1,54.59L482.1,54.71L483.1,54.75L484.1,54.76L485.1,54.75L486.1,54.73L487.1,54.70L488.1,54.71L489.1,54.61L490.1,54.55L491.1,54.54" fill="none" stroke="#3c8bc0" stroke-width="0.95" stroke-linejoin="round"/>
<path d="M366.1,69.46L367.1,69.65L368.1,69.67L369.1,69.80L370.1,69.77L371.1,69.81L372.1,69.79L373.1,69.79L374.1,69.83L375.1,70.00L376.1,69.97L377.1,69.77L378.1,69.82L379.1,69.64L380.1,69.44L381.1,69.51L382.1,69.69L383.1,69.70L384.1,69.88L385.1,69.91L386.1,69.76L387.1,69.60L388.1,69.62L389.1,69.43L390.1,69.41L391.1,69.38L392.1,69.36L393.1,69.14L394.1,69.18L395.1,69.17L396.1,69.22L397.1,69.39L398.1,69.41L399.1,69.49L400.1,69.60L401.1,69.62L402.1,69.47L403.1,69.51L404.1,69.34L405.1,69.08L406.1,68.87L407.1,68.61L408.1,68.33L409.1,68.20L410.1,68.02L411.1,67.72L412.1,67.52L413.1,67.36L414.1,66.95L415.1,66.58L416.1,66.04L417.1,65.33L418.1,64.67L419.1,63.97L420.1,63.34L421.1,62.98L422.1,62.76L423.1,62.59L424.1,62.96L425.1,63.76L426.1,64.55L427.1,65.34L428.1,66.14L429.1,67.12L430.1,67.85L431.1,68.47L432.1,68.83L433.1,69.02L434.1,68.91L435.1,68.86L436.1,68.93L437.1,68.91L438.1,69.03L439.1,69.14L440.1,69.23L441.1,69.29L442.1,69.43L443.1,69.31L444.1,69.29L445.1,69.19L446.1,69.05L447.1,69.14L448.1,69.27L449.1,69.46L450.1,69.66L451.1,69.74L452.1,69.77L453.1,69.86L454.1,69.77L455.1,69.64L456.1,69.66L457.1,69.50L458.1,69.40L459.1,69.33L460.1,69.48L461.1,69.64L462.1,69.67L463.1,69.77L464.1,69.89L465.1,69.86L466.1,69.85L467.1,69.90L468.1,69.92L469.1,69.81L470.1,69.93L471.1,69.78L472.1,69.71L473.1,69.73L474.1,69.89L475.1,69.84L476.1,69.98L477.1,70.07L478.1,69.91L479.1,69.84L480.1,69.91L481.1,69.97L482.1,69.95L483.1,70.04L484.1,70.08L485.1,70.08L486.1,69.89L487.1,70.03L488.1,70.01L489.1,70.05L490.1,69.96L491.1,70.13" fill="none" stroke="#6fc3a6" stroke-width="0.95" stroke-linejoin="round"/>
<path d="M366.1,86.60L367.1,86.52L368.1,86.56L369.1,86.66L370.1,86.74L371.1,86.63L372.1,86.74L373.1,86.76L374.1,86.71L375.1,86.75L376.1,86.85L377.1,86.83L378.1,86.94L379.1,86.99L380.1,86.88L381.1,86.85L382.1,86.89L383.1,86.72L384.1,86.74L385.1,86.86L386.1,86.91L387.1,87.01L388.1,87.23L389.1,87.23L390.1,87.24L391.1,87.19L392.1,87.03L393.1,87.05L394.1,87.00L395.1,86.91L396.1,87.08L397.1,87.24L398.1,87.04L399.1,86.97L400.1,86.82L401.1,86.46L402.1,86.00L403.1,85.75L404.1,85.34L405.1,84.93L406.1,84.42L407.1,83.92L408.1,83.26L409.1,82.81L410.1,82.29L411.1,81.76L412.1,81.14L413.1,80.54L414.1,79.69L415.1,78.63L416.1,77.34L417.1,76.04L418.1,74.65L419.1,73.27L420.1,72.05L421.1,71.01L422.1,70.18L423.1,69.66L424.1,69.62L425.1,70.25L426.1,71.31L427.1,72.49L428.1,74.52L429.1,77.01L430.1,79.72L431.1,82.21L432.1,84.39L433.1,85.40L434.1,85.58L435.1,85.54L436.1,85.62L437.1,85.66L438.1,85.84L439.1,85.78L440.1,85.82L441.1,85.92L442.1,85.75L443.1,85.64L444.1,85.76L445.1,85.83L446.1,85.82L447.1,85.93L448.1,86.04L449.1,85.98L450.1,86.03L451.1,86.15L452.1,86.18L453.1,86.09L454.1,86.13L455.1,86.13L456.1,86.00L457.1,85.93L458.1,85.98L459.1,86.06L460.1,86.02L461.1,86.02L462.1,86.15L463.1,86.28L464.1,86.35L465.1,86.40L466.1,86.44L467.1,86.49L468.1,86.53L469.1,86.51L470.1,86.50L471.1,86.54L472.1,86.48L473.1,86.47L474.1,86.42L475.1,86.42L476.1,86.35L477.1,86.26L478.1,86.14L479.1,86.14L480.1,86.12L481.1,86.12L482.1,86.15L483.1,86.30L484.1,86.20L485.1,86.29L486.1,86.42L487.1,86.52L488.1,86.54L489.1,86.68L490.1,86.66L491.1,86.66" fill="none" stroke="#fdc36e" stroke-width="0.95" stroke-linejoin="round"/>
<path d="M366.1,101.46L367.1,101.52L368.1,101.55L369.1,101.50L370.1,101.57L371.1,101.47L372.1,101.34L373.1,101.16L374.1,101.18L375.1,101.00L376.1,100.96L377.1,101.02L378.1,101.17L379.1,101.21L380.1,101.19L381.1,101.14L382.1,101.05L383.1,101.00L384.1,101.01L385.1,101.16L386.1,101.34L387.1,101.41L388.1,101.41L389.1,101.28L390.1,101.17L391.1,100.99L392.1,100.97L393.1,100.95L394.1,100.99L395.1,101.00L396.1,101.03L397.1,100.94L398.1,100.97L399.1,100.95L400.1,101.00L401.1,101.07L402.1,100.99L403.1,100.49L404.1,99.82L405.1,99.06L406.1,98.11L407.1,97.08L408.1,96.11L409.1,95.00L410.1,93.91L411.1,92.76L412.1,91.97L413.1,91.33L414.1,90.84L415.1,90.26L416.1,89.78L417.1,89.20L418.1,88.59L419.1,88.14L420.1,87.68L421.1,87.39L422.1,87.09L423.1,86.97L424.1,86.88L425.1,86.93L426.1,87.74L427.1,89.10L428.1,90.90L429.1,93.08L430.1,95.36L431.1,97.42L432.1,99.26L433.1,100.62L434.1,101.05L435.1,101.09L436.1,100.98L437.1,100.94L438.1,100.95L439.1,101.12L440.1,101.06L441.1,101.09L442.1,101.11L443.1,101.16L444.1,101.16L445.1,101.16L446.1,101.21L447.1,101.18L448.1,101.05L449.1,101.04L450.1,101.22L451.1,101.30L452.1,101.42L453.1,101.54L454.1,101.50L455.1,101.45L456.1,101.49L457.1,101.42L458.1,101.46L459.1,101.63L460.1,101.57L461.1,101.54L462.1,101.73L463.1,101.57L464.1,101.46L465.1,101.52L466.1,101.52L467.1,101.36L468.1,101.50L469.1,101.56L470.1,101.63L471.1,101.62L472.1,101.76L473.1,101.73L474.1,101.70L475.1,101.62L476.1,101.55L477.1,101.47L478.1,101.45L479.1,101.42L480.1,101.36L481.1,101.37L482.1,101.48L483.1,101.45L484.1,101.58L485.1,101.74L486.1,101.76L487.1,101.61L488.1,101.75L489.1,101.75L490.1,101.72L491.1,101.79" fill="none" stroke="#f7955c" stroke-width="0.95" stroke-linejoin="round"/>
<path d="M366.1,118.69L367.1,118.73L368.1,118.62L369.1,118.70L370.1,118.65L371.1,118.64L372.1,118.60L373.1,118.73L374.1,118.57L375.1,118.52L376.1,118.50L377.1,118.45L378.1,118.40L379.1,118.42L380.1,118.53L381.1,118.37L382.1,118.39L383.1,118.30L384.1,118.21L385.1,118.14L386.1,118.13L387.1,118.01L388.1,117.99L389.1,118.00L390.1,117.88L391.1,117.86L392.1,117.98L393.1,117.91L394.1,117.89L395.1,117.85L396.1,118.01L397.1,117.92L398.1,118.06L399.1,118.21L400.1,118.27L401.1,118.11L402.1,118.00L403.1,117.77L404.1,117.57L405.1,117.53L406.1,117.40L407.1,117.32L408.1,117.28L409.1,117.16L410.1,116.91L411.1,116.75L412.1,116.44L413.1,116.16L414.1,116.02L415.1,115.80L416.1,115.64L417.1,115.48L418.1,115.32L419.1,114.98L420.1,114.86L421.1,114.71L422.1,114.50L423.1,114.38L424.1,114.26L425.1,114.23L426.1,114.07L427.1,114.27L428.1,114.72L429.1,115.41L430.1,115.87L431.1,116.63L432.1,117.44L433.1,117.82L434.1,118.22L435.1,118.40L436.1,118.40L437.1,118.31L438.1,118.29L439.1,118.21L440.1,118.27L441.1,118.31L442.1,118.35L443.1,118.37L444.1,118.42L445.1,118.38L446.1,118.44L447.1,118.35L448.1,118.48L449.1,118.37L450.1,118.43L451.1,118.31L452.1,118.40L453.1,118.38L454.1,118.54L455.1,118.42L456.1,118.53L457.1,118.58L458.1,118.45L459.1,118.43L460.1,118.61L461.1,118.50L462.1,118.55L463.1,118.56L464.1,118.51L465.1,118.39L466.1,118.49L467.1,118.36L468.1,118.38L469.1,118.50L470.1,118.54L471.1,118.46L472.1,118.55L473.1,118.54L474.1,118.49L475.1,118.56L476.1,118.56L477.1,118.59L478.1,118.74L479.1,118.58L480.1,118.64L481.1,118.65L482.1,118.65L483.1,118.61L484.1,118.80L485.1,118.76L486.1,118.70L487.1,118.56L488.1,118.50L489.1,118.34L490.1,118.23L491.1,118.24" fill="none" stroke="#ef6d52" stroke-width="0.95" stroke-linejoin="round"/>
<path d="M366.1,134.59L367.1,134.63L368.1,134.64L369.1,134.76L370.1,134.55L371.1,134.48L372.1,134.33L373.1,134.33L374.1,134.23L375.1,134.36L376.1,134.34L377.1,134.42L378.1,134.45L379.1,134.57L380.1,134.53L381.1,134.59L382.1,134.66L383.1,134.57L384.1,134.39L385.1,134.42L386.1,134.42L387.1,134.34L388.1,134.30L389.1,134.43L390.1,134.40L391.1,134.43L392.1,134.35L393.1,134.45L394.1,134.38L395.1,134.53L396.1,134.37L397.1,134.53L398.1,134.50L399.1,134.50L400.1,134.33L401.1,134.41L402.1,134.43L403.1,134.56L404.1,134.69L405.1,134.78L406.1,134.73L407.1,134.64L408.1,134.57L409.1,134.43L410.1,134.51L411.1,134.49L412.1,134.43L413.1,134.34L414.1,134.31L415.1,134.11L416.1,134.15L417.1,134.18L418.1,134.35L419.1,134.44L420.1,134.56L421.1,134.59L422.1,134.55L423.1,134.47L424.1,134.52L425.1,134.40L426.1,134.47L427.1,134.49L428.1,134.52L429.1,134.44L430.1,134.46L431.1,134.35L432.1,134.48L433.1,134.45L434.1,134.40L435.1,134.57L436.1,134.60L437.1,134.49L438.1,134.38L439.1,134.43L440.1,134.36L441.1,134.50L442.1,134.51L443.1,134.62L444.1,134.57L445.1,134.61L446.1,134.48L447.1,134.50L448.1,134.45L449.1,134.62L450.1,134.69L451.1,134.66L452.1,134.68L453.1,134.65L454.1,134.63L455.1,134.62L456.1,134.62L457.1,134.68L458.1,134.73L459.1,134.66L460.1,134.59L461.1,134.65L462.1,134.65L463.1,134.66L464.1,134.67L465.1,134.63L466.1,134.64L467.1,134.54L468.1,134.55L469.1,134.47L470.1,134.53L471.1,134.53L472.1,134.59L473.1,134.72L474.1,134.73L475.1,134.72L476.1,134.76L477.1,134.81L478.1,134.79L479.1,134.83L480.1,134.93L481.1,134.94L482.1,134.82L483.1,134.79L484.1,134.83L485.1,134.84L486.1,134.86L487.1,134.99L488.1,135.01L489.1,135.06L490.1,135.01L491.1,135.00" fill="none" stroke="#d8435f" stroke-width="0.95" stroke-linejoin="round"/>
<path d="M366.1,149.91L367.1,149.91L368.1,149.86L369.1,149.71L370.1,149.71L371.1,149.54L372.1,149.37L373.1,149.11L374.1,149.07L375.1,149.00L376.1,148.95L377.1,148.90L378.1,149.07L379.1,149.08L380.1,149.25L381.1,149.52L382.1,149.76L383.1,149.77L384.1,149.84L385.1,149.83L386.1,149.83L387.1,149.92L388.1,150.17L389.1,150.34L390.1,150.43L391.1,150.48L392.1,150.33L393.1,150.26L394.1,150.19L395.1,150.14L396.1,150.01L397.1,150.15L398.1,150.23L399.1,150.20L400.1,150.24L401.1,150.24L402.1,150.17L403.1,150.01L404.1,150.18L405.1,150.21L406.1,150.40L407.1,150.37L408.1,150.50L409.1,150.46L410.1,150.41L411.1,150.42L412.1,150.51L413.1,150.41L414.1,150.41L415.1,150.40L416.1,150.25L417.1,150.25L418.1,150.19L419.1,150.13L420.1,150.15L421.1,150.10L422.1,150.11L423.1,150.12L424.1,150.16L425.1,150.11L426.1,150.12L427.1,150.19L428.1,150.19L429.1,150.08L430.1,150.11L431.1,150.16L432.1,150.05L433.1,150.14L434.1,150.23L435.1,150.24L436.1,150.25L437.1,150.18L438.1,150.23L439.1,150.19L440.1,150.19L441.1,150.32L442.1,150.28L443.1,150.18L444.1,150.21L445.1,150.11L446.1,150.07L447.1,150.16L448.1,150.16L449.1,150.08L450.1,150.28L451.1,150.12L452.1,150.21L453.1,150.30L454.1,150.45L455.1,150.39L456.1,150.46L457.1,150.40L458.1,150.44L459.1,150.25L460.1,150.28L461.1,150.35L462.1,150.28L463.1,150.28L464.1,150.34L465.1,150.15L466.1,150.06L467.1,150.13L468.1,149.92L469.1,149.99L470.1,150.08L471.1,150.09L472.1,150.15L473.1,150.27L474.1,150.36L475.1,150.45L476.1,150.56L477.1,150.60L478.1,150.65L479.1,150.54L480.1,150.37L481.1,150.27L482.1,150.20L483.1,150.23L484.1,150.27L485.1,150.38L486.1,150.29L487.1,150.30L488.1,150.09L489.1,149.98L490.1,149.90L491.1,149.96" fill="none" stroke="#a52c6c" stroke-width="0.95" stroke-linejoin="round"/>
<text x="337.50" y="12.00" font-size="17" text-anchor="start" fill="#111" stroke="#111" stroke-width="0.14" >c</text>
<text x="371.00" y="24.00" font-size="8.1" text-anchor="start" fill="#1e1e1e" stroke="#1e1e1e" stroke-width="0.14" >298 K</text>
<text x="406.70" y="23.5" font-size="8.1" fill="#1e1e1e" stroke="#1e1e1e" stroke-width="0.14"><tspan font-size="6.6" dy="-1.3">*</tspan><tspan dy="1.3">CO</tspan><tspan font-size="5.9" dy="2.0">atop</tspan></text>
<text x="437.60" y="23.9" font-size="7.9" fill="#1e1e1e" stroke="#1e1e1e" stroke-width="0.14">Pd-Cu<tspan font-size="4.84" dy="1.72">2</tspan><tspan dy="-1.72">O/PTFE</tspan></text>
<text x="474.70" y="147.90" font-size="8.2" text-anchor="middle" fill="#9e1f62" stroke="#9e1f62" stroke-width="0.14" >OCP</text>
<text x="428.75" y="189.20" font-size="8.5" text-anchor="middle" fill="#222" stroke="#222" stroke-width="0.14">Raman shift (cm<tspan font-size="5.3" dy="-3">-1</tspan><tspan dy="3">)</tspan></text>
<text transform="translate(354.00,88.35) rotate(-90)" font-size="8.7" text-anchor="middle" fill="#222" stroke="#222" stroke-width="0.14">Intensity (a.u.)</text>
<rect x="534.60" y="11.60" width="124.90" height="154.80" fill="none" stroke="#7a7a7a" stroke-width="1.1"/>
<line x1="534.10" y1="166.50" x2="660.00" y2="166.50" stroke="#3e3e3e" stroke-width="1"/>
<line x1="534.60" y1="166.40" x2="534.60" y2="169.00" stroke="#6e6e6e" stroke-width="1"/>
<text x="534.60" y="177.10" font-size="8.0" text-anchor="middle" fill="#222" stroke="#222" stroke-width="0.14" >1800</text>
<line x1="555.42" y1="166.40" x2="555.42" y2="168.00" stroke="#6e6e6e" stroke-width="0.9"/>
<line x1="576.23" y1="166.40" x2="576.23" y2="169.00" stroke="#6e6e6e" stroke-width="1"/>
<text x="576.23" y="177.10" font-size="8.0" text-anchor="middle" fill="#222" stroke="#222" stroke-width="0.14" >2000</text>
<line x1="597.05" y1="166.40" x2="597.05" y2="168.00" stroke="#6e6e6e" stroke-width="0.9"/>
<line x1="617.87" y1="166.40" x2="617.87" y2="169.00" stroke="#6e6e6e" stroke-width="1"/>
<text x="617.87" y="177.10" font-size="8.0" text-anchor="middle" fill="#222" stroke="#222" stroke-width="0.14" >2200</text>
<line x1="638.68" y1="166.40" x2="638.68" y2="168.00" stroke="#6e6e6e" stroke-width="0.9"/>
<line x1="659.50" y1="166.40" x2="659.50" y2="169.00" stroke="#6e6e6e" stroke-width="1"/>
<text x="659.50" y="177.10" font-size="8.0" text-anchor="middle" fill="#222" stroke="#222" stroke-width="0.14" >2400</text>
<line x1="581.70" y1="26" x2="581.70" y2="163.40" stroke="#5a5a5a" stroke-width="0.75" stroke-dasharray="2.8,2.0"/>
<line x1="594.50" y1="26" x2="594.50" y2="163.40" stroke="#5a5a5a" stroke-width="0.75" stroke-dasharray="2.8,2.0"/>
<path d="M535.2,37.55L536.2,37.50L537.2,37.62L538.2,37.66L539.2,37.50L540.2,37.56L541.2,37.69L542.2,37.58L543.2,37.44L544.2,37.60L545.2,37.56L546.2,37.50L547.2,37.54L548.2,37.63L549.2,37.65L550.2,37.66L551.2,37.65L552.2,37.54L553.2,37.65L554.2,37.47L555.2,37.54L556.2,37.59L557.2,37.75L558.2,37.56L559.2,37.72L560.2,37.79L561.2,37.68L562.2,37.65L563.2,37.67L564.2,37.51L565.2,37.36L566.2,37.35L567.2,37.37L568.2,37.42L569.2,37.60L570.2,37.75L571.2,37.73L572.2,37.64L573.2,37.54L574.2,37.45L575.2,37.38L576.2,37.46L577.2,37.38L578.2,37.33L579.2,36.71L580.2,36.10L581.2,35.48L582.2,35.11L583.2,34.85L584.2,34.69L585.2,34.24L586.2,34.02L587.2,33.76L588.2,33.38L589.2,33.04L590.2,32.92L591.2,32.54L592.2,32.34L593.2,32.16L594.2,32.07L595.2,32.19L596.2,32.97L597.2,34.00L598.2,35.29L599.2,36.35L600.2,37.01L601.2,37.29L602.2,37.48L603.2,37.54L604.2,37.61L605.2,37.79L606.2,37.75L607.2,37.60L608.2,37.62L609.2,37.69L610.2,37.56L611.2,37.60L612.2,37.75L613.2,37.56L614.2,37.47L615.2,37.61L616.2,37.60L617.2,37.53L618.2,37.62L619.2,37.69L620.2,37.59L621.2,37.60L622.2,37.69L623.2,37.77L624.2,37.88L625.2,37.83L626.2,37.81L627.2,37.83L628.2,37.73L629.2,37.70L630.2,37.77L631.2,37.82L632.2,37.79L633.2,37.81L634.2,37.76L635.2,37.70L636.2,37.81L637.2,37.80L638.2,37.76L639.2,37.76L640.2,37.89L641.2,37.91L642.2,37.78L643.2,37.93L644.2,37.96L645.2,37.83L646.2,37.71L647.2,37.87L648.2,37.70L649.2,37.70L650.2,37.82L651.2,37.87L652.2,37.72L653.2,37.70L654.2,37.79L655.2,37.71L656.2,37.63L657.2,37.75L658.2,37.86L658.9,37.68" fill="none" stroke="#6151a3" stroke-width="0.95" stroke-linejoin="round"/>
<path d="M535.2,53.13L536.2,53.30L537.2,53.32L538.2,53.38L539.2,53.44L540.2,53.48L541.2,53.43L542.2,53.42L543.2,53.43L544.2,53.45L545.2,53.54L546.2,53.47L547.2,53.37L548.2,53.23L549.2,53.23L550.2,53.08L551.2,53.12L552.2,53.21L553.2,53.19L554.2,53.19L555.2,53.16L556.2,53.19L557.2,53.23L558.2,53.26L559.2,53.24L560.2,53.38L561.2,53.21L562.2,53.16L563.2,53.13L564.2,53.16L565.2,53.13L566.2,53.31L567.2,53.16L568.2,53.18L569.2,53.10L570.2,53.07L571.2,52.87L572.2,53.04L573.2,53.13L574.2,53.04L575.2,52.92L576.2,53.00L577.2,52.86L578.2,52.73L579.2,52.59L580.2,52.38L581.2,51.92L582.2,51.50L583.2,51.06L584.2,50.71L585.2,50.30L586.2,50.06L587.2,49.77L588.2,49.53L589.2,49.24L590.2,49.00L591.2,48.74L592.2,48.61L593.2,48.73L594.2,49.28L595.2,49.88L596.2,50.62L597.2,51.31L598.2,52.15L599.2,52.64L600.2,53.17L601.2,53.49L602.2,53.74L603.2,53.76L604.2,53.85L605.2,53.87L606.2,53.96L607.2,53.88L608.2,53.86L609.2,53.96L610.2,53.94L611.2,53.84L612.2,53.91L613.2,54.04L614.2,53.96L615.2,53.87L616.2,53.95L617.2,53.93L618.2,53.93L619.2,53.95L620.2,54.12L621.2,54.07L622.2,54.21L623.2,54.19L624.2,54.29L625.2,54.15L626.2,54.11L627.2,53.93L628.2,53.81L629.2,53.80L630.2,53.78L631.2,53.80L632.2,53.93L633.2,53.93L634.2,53.86L635.2,53.90L636.2,54.01L637.2,53.91L638.2,54.10L639.2,54.17L640.2,54.28L641.2,54.26L642.2,54.35L643.2,54.35L644.2,54.42L645.2,54.45L646.2,54.34L647.2,54.37L648.2,54.37L649.2,54.32L650.2,54.26L651.2,54.40L652.2,54.32L653.2,54.28L654.2,54.32L655.2,54.23L656.2,54.21L657.2,54.32L658.2,54.27L658.9,54.17" fill="none" stroke="#3c8bc0" stroke-width="0.95" stroke-linejoin="round"/>
<path d="M535.2,70.25L536.2,70.15L537.2,70.18L538.2,70.12L539.2,70.24L540.2,70.14L541.2,70.11L542.2,69.89L543.2,69.72L544.2,69.57L545.2,69.49L546.2,69.37L547.2,69.43L548.2,69.43L549.2,69.29L550.2,69.34L551.2,69.40L552.2,69.17L553.2,69.15L554.2,69.16L555.2,69.02L556.2,68.78L557.2,68.91L558.2,68.72L559.2,68.50L560.2,68.36L561.2,68.43L562.2,68.27L563.2,68.28L564.2,68.33L565.2,68.33L566.2,68.25L567.2,68.09L568.2,67.91L569.2,67.81L570.2,67.69L571.2,67.51L572.2,67.39L573.2,67.25L574.2,66.89L575.2,66.60L576.2,66.25L577.2,65.89L578.2,65.36L579.2,64.76L580.2,64.06L581.2,63.41L582.2,62.77L583.2,61.96L584.2,61.04L585.2,60.07L586.2,59.21L587.2,58.47L588.2,57.92L589.2,57.57L590.2,57.68L591.2,57.88L592.2,58.46L593.2,59.36L594.2,60.34L595.2,61.31L596.2,62.97L597.2,64.87L598.2,66.47L599.2,67.48L600.2,67.65L601.2,67.65L602.2,67.60L603.2,67.55L604.2,67.78L605.2,68.03L606.2,68.10L607.2,68.25L608.2,68.35L609.2,68.40L610.2,68.36L611.2,68.40L612.2,68.36L613.2,68.44L614.2,68.34L615.2,68.41L616.2,68.59L617.2,68.66L618.2,68.62L619.2,68.82L620.2,68.83L621.2,68.69L622.2,68.64L623.2,68.64L624.2,68.58L625.2,68.67L626.2,68.77L627.2,68.79L628.2,68.87L629.2,68.97L630.2,68.93L631.2,69.07L632.2,69.26L633.2,69.20L634.2,69.15L635.2,69.20L636.2,69.12L637.2,69.00L638.2,69.16L639.2,69.04L640.2,69.00L641.2,68.99L642.2,69.16L643.2,69.23L644.2,69.27L645.2,69.30L646.2,69.26L647.2,69.27L648.2,69.28L649.2,69.31L650.2,69.36L651.2,69.47L652.2,69.32L653.2,69.32L654.2,69.40L655.2,69.45L656.2,69.46L657.2,69.46L658.2,69.42L658.9,69.41" fill="none" stroke="#6fc3a6" stroke-width="0.95" stroke-linejoin="round"/>
<path d="M535.2,87.17L536.2,87.21L537.2,87.28L538.2,87.44L539.2,87.39L540.2,87.46L541.2,87.36L542.2,87.30L543.2,87.21L544.2,87.29L545.2,87.30L546.2,87.46L547.2,87.45L548.2,87.41L549.2,87.40L550.2,87.45L551.2,87.36L552.2,87.28L553.2,87.35L554.2,87.26L555.2,87.24L556.2,87.26L557.2,87.28L558.2,87.20L559.2,87.04L560.2,86.73L561.2,86.43L562.2,86.31L563.2,86.14L564.2,85.86L565.2,85.77L566.2,85.57L567.2,85.07L568.2,84.74L569.2,84.46L570.2,84.11L571.2,83.77L572.2,83.38L573.2,82.94L574.2,82.58L575.2,82.17L576.2,81.68L577.2,81.33L578.2,80.81L579.2,80.04L580.2,79.32L581.2,78.64L582.2,77.65L583.2,76.43L584.2,75.02L585.2,73.24L586.2,71.49L587.2,69.97L588.2,68.32L589.2,66.78L590.2,65.62L591.2,64.75L592.2,64.25L593.2,64.49L594.2,66.01L595.2,67.98L596.2,70.60L597.2,73.62L598.2,76.92L599.2,80.20L600.2,82.88L601.2,84.66L602.2,85.46L603.2,85.51L604.2,85.66L605.2,85.66L606.2,85.68L607.2,85.55L608.2,85.77L609.2,85.91L610.2,85.88L611.2,86.07L612.2,86.32L613.2,86.35L614.2,86.36L615.2,86.44L616.2,86.47L617.2,86.38L618.2,86.42L619.2,86.40L620.2,86.54L621.2,86.59L622.2,86.58L623.2,86.55L624.2,86.44L625.2,86.31L626.2,86.35L627.2,86.37L628.2,86.38L629.2,86.50L630.2,86.52L631.2,86.46L632.2,86.58L633.2,86.51L634.2,86.47L635.2,86.47L636.2,86.39L637.2,86.38L638.2,86.47L639.2,86.62L640.2,86.73L641.2,86.91L642.2,86.79L643.2,86.68L644.2,86.53L645.2,86.48L646.2,86.49L647.2,86.50L648.2,86.58L649.2,86.55L650.2,86.49L651.2,86.40L652.2,86.50L653.2,86.53L654.2,86.73L655.2,86.93L656.2,87.03L657.2,87.04L658.2,87.13L658.9,87.11" fill="none" stroke="#fdc36e" stroke-width="0.95" stroke-linejoin="round"/>
<path d="M535.2,102.41L536.2,102.29L537.2,102.22L538.2,102.14L539.2,102.04L540.2,101.85L541.2,101.84L542.2,101.90L543.2,102.11L544.2,102.23L545.2,102.31L546.2,102.36L547.2,102.40L548.2,102.25L549.2,102.11L550.2,102.21L551.2,102.26L552.2,102.12L553.2,102.07L554.2,102.07L555.2,102.09L556.2,101.97L557.2,102.08L558.2,102.28L559.2,102.26L560.2,102.13L561.2,102.20L562.2,102.26L563.2,102.08L564.2,102.12L565.2,102.08L566.2,101.98L567.2,101.92L568.2,102.05L569.2,102.08L570.2,102.02L571.2,102.15L572.2,102.16L573.2,101.94L574.2,101.26L575.2,100.42L576.2,99.13L577.2,97.67L578.2,96.17L579.2,94.74L580.2,93.43L581.2,92.51L582.2,91.89L583.2,91.34L584.2,91.03L585.2,90.75L586.2,90.22L587.2,89.73L588.2,89.35L589.2,88.85L590.2,88.55L591.2,88.46L592.2,88.39L593.2,88.50L594.2,88.93L595.2,89.94L596.2,91.51L597.2,93.54L598.2,95.76L599.2,98.04L600.2,100.03L601.2,101.71L602.2,102.65L603.2,102.85L604.2,102.76L605.2,102.81L606.2,102.88L607.2,103.07L608.2,103.09L609.2,103.14L610.2,103.26L611.2,103.20L612.2,103.03L613.2,102.97L614.2,103.07L615.2,103.08L616.2,103.07L617.2,103.27L618.2,103.40L619.2,103.32L620.2,103.40L621.2,103.43L622.2,103.27L623.2,103.20L624.2,103.34L625.2,103.27L626.2,103.34L627.2,103.44L628.2,103.39L629.2,103.28L630.2,103.24L631.2,103.24L632.2,103.35L633.2,103.31L634.2,103.30L635.2,103.43L636.2,103.45L637.2,103.27L638.2,103.35L639.2,103.45L640.2,103.44L641.2,103.32L642.2,103.51L643.2,103.58L644.2,103.51L645.2,103.43L646.2,103.59L647.2,103.45L648.2,103.44L649.2,103.51L650.2,103.41L651.2,103.30L652.2,103.34L653.2,103.22L654.2,103.31L655.2,103.36L656.2,103.36L657.2,103.41L658.2,103.50L658.9,103.34" fill="none" stroke="#f7955c" stroke-width="0.95" stroke-linejoin="round"/>
<path d="M535.2,118.93L536.2,118.90L537.2,118.80L538.2,118.70L539.2,118.62L540.2,118.59L541.2,118.55L542.2,118.66L543.2,118.63L544.2,118.68L545.2,118.65L546.2,118.73L547.2,118.70L548.2,118.71L549.2,118.74L550.2,118.84L551.2,118.65L552.2,118.55L553.2,118.63L554.2,118.61L555.2,118.46L556.2,118.47L557.2,118.51L558.2,118.53L559.2,118.31L560.2,118.25L561.2,118.31L562.2,118.16L563.2,117.98L564.2,118.10L565.2,118.18L566.2,118.09L567.2,118.15L568.2,118.15L569.2,118.05L570.2,117.94L571.2,117.84L572.2,117.56L573.2,117.50L574.2,117.41L575.2,117.23L576.2,117.12L577.2,116.81L578.2,115.90L579.2,114.74L580.2,113.60L581.2,112.68L582.2,112.38L583.2,111.89L584.2,111.45L585.2,111.04L586.2,110.69L587.2,110.39L588.2,110.22L589.2,109.90L590.2,109.89L591.2,109.82L592.2,109.66L593.2,109.58L594.2,109.96L595.2,110.50L596.2,111.46L597.2,112.51L598.2,113.89L599.2,115.06L600.2,116.25L601.2,117.12L602.2,117.76L603.2,117.80L604.2,117.94L605.2,117.94L606.2,118.09L607.2,118.21L608.2,118.32L609.2,118.42L610.2,118.51L611.2,118.38L612.2,118.29L613.2,118.43L614.2,118.52L615.2,118.47L616.2,118.61L617.2,118.81L618.2,118.83L619.2,118.69L620.2,118.73L621.2,118.72L622.2,118.70L623.2,118.55L624.2,118.72L625.2,118.88L626.2,118.91L627.2,118.99L628.2,119.08L629.2,119.13L630.2,119.07L631.2,119.07L632.2,118.99L633.2,119.07L634.2,119.10L635.2,119.05L636.2,119.11L637.2,119.22L638.2,119.23L639.2,119.10L640.2,119.18L641.2,119.26L642.2,119.14L643.2,119.21L644.2,119.26L645.2,119.31L646.2,119.29L647.2,119.41L648.2,119.34L649.2,119.46L650.2,119.51L651.2,119.57L652.2,119.58L653.2,119.60L654.2,119.45L655.2,119.53L656.2,119.40L657.2,119.33L658.2,119.31L658.9,119.43" fill="none" stroke="#ef6d52" stroke-width="0.95" stroke-linejoin="round"/>
<path d="M535.2,135.34L536.2,135.41L537.2,135.31L538.2,135.23L539.2,135.28L540.2,135.36L541.2,135.18L542.2,135.15L543.2,135.11L544.2,135.16L545.2,135.14L546.2,135.17L547.2,135.36L548.2,135.41L549.2,135.44L550.2,135.47L551.2,135.46L552.2,135.48L553.2,135.47L554.2,135.29L555.2,135.19L556.2,135.19L557.2,135.15L558.2,135.16L559.2,135.16L560.2,135.11L561.2,135.21L562.2,135.21L563.2,135.16L564.2,135.16L565.2,135.19L566.2,135.10L567.2,135.01L568.2,135.14L569.2,135.16L570.2,135.15L571.2,135.31L572.2,135.28L573.2,135.12L574.2,135.14L575.2,135.21L576.2,135.20L577.2,135.31L578.2,135.30L579.2,135.31L580.2,135.20L581.2,135.17L582.2,135.11L583.2,135.26L584.2,135.33L585.2,135.43L586.2,135.35L587.2,135.39L588.2,135.25L589.2,135.15L590.2,135.21L591.2,135.21L592.2,135.10L593.2,135.24L594.2,135.27L595.2,135.15L596.2,135.24L597.2,135.45L598.2,135.30L599.2,135.40L600.2,135.35L601.2,135.40L602.2,135.27L603.2,135.29L604.2,135.24L605.2,135.38L606.2,135.24L607.2,135.24L608.2,135.40L609.2,135.50L610.2,135.52L611.2,135.59L612.2,135.67L613.2,135.53L614.2,135.44L615.2,135.35L616.2,135.28L617.2,135.14L618.2,135.12L619.2,135.25L620.2,135.27L621.2,135.32L622.2,135.45L623.2,135.61L624.2,135.59L625.2,135.71L626.2,135.66L627.2,135.57L628.2,135.50L629.2,135.37L630.2,135.30L631.2,135.34L632.2,135.49L633.2,135.48L634.2,135.61L635.2,135.70L636.2,135.79L637.2,135.66L638.2,135.60L639.2,135.63L640.2,135.63L641.2,135.59L642.2,135.55L643.2,135.71L644.2,135.56L645.2,135.45L646.2,135.56L647.2,135.76L648.2,135.78L649.2,135.73L650.2,135.78L651.2,135.71L652.2,135.66L653.2,135.48L654.2,135.67L655.2,135.57L656.2,135.44L657.2,135.43L658.2,135.52L658.9,135.35" fill="none" stroke="#d8435f" stroke-width="0.95" stroke-linejoin="round"/>
<path d="M535.2,152.60L536.2,152.58L537.2,152.60L538.2,152.61L539.2,152.52L540.2,152.51L541.2,152.44L542.2,152.35L543.2,152.32L544.2,152.52L545.2,152.53L546.2,152.64L547.2,152.82L548.2,152.96L549.2,152.87L550.2,152.81L551.2,152.80L552.2,152.68L553.2,152.69L554.2,152.57L555.2,152.59L556.2,152.63L557.2,152.68L558.2,152.59L559.2,152.75L560.2,152.71L561.2,152.75L562.2,152.81L563.2,152.70L564.2,152.60L565.2,152.62L566.2,152.52L567.2,152.44L568.2,152.48L569.2,152.55L570.2,152.66L571.2,152.78L572.2,152.84L573.2,152.83L574.2,152.85L575.2,152.82L576.2,152.75L577.2,152.71L578.2,152.72L579.2,152.73L580.2,152.61L581.2,152.59L582.2,152.50L583.2,152.55L584.2,152.39L585.2,152.40L586.2,152.45L587.2,152.45L588.2,152.49L589.2,152.65L590.2,152.72L591.2,152.68L592.2,152.67L593.2,152.61L594.2,152.64L595.2,152.72L596.2,152.71L597.2,152.76L598.2,152.86L599.2,152.77L600.2,152.73L601.2,152.62L602.2,152.58L603.2,152.54L604.2,152.54L605.2,152.53L606.2,152.60L607.2,152.74L608.2,152.57L609.2,152.51L610.2,152.47L611.2,152.49L612.2,152.43L613.2,152.53L614.2,152.62L615.2,152.65L616.2,152.61L617.2,152.46L618.2,152.41L619.2,152.33L620.2,152.37L621.2,152.51L622.2,152.65L623.2,152.63L624.2,152.76L625.2,152.56L626.2,152.38L627.2,152.40L628.2,152.43L629.2,152.32L630.2,152.34L631.2,152.31L632.2,152.16L633.2,152.10L634.2,152.02L635.2,151.96L636.2,152.00L637.2,152.08L638.2,152.18L639.2,152.34L640.2,152.51L641.2,152.58L642.2,152.59L643.2,152.48L644.2,152.32L645.2,152.33L646.2,152.41L647.2,152.36L648.2,152.55L649.2,152.72L650.2,152.58L651.2,152.39L652.2,152.34L653.2,152.17L654.2,151.99L655.2,152.05L656.2,152.09L657.2,152.26L658.2,152.33L658.9,152.47" fill="none" stroke="#a52c6c" stroke-width="0.95" stroke-linejoin="round"/>
<text x="505.50" y="12.00" font-size="17" text-anchor="start" fill="#111" stroke="#111" stroke-width="0.14" >d</text>
<text x="540.10" y="24.00" font-size="8.1" text-anchor="start" fill="#1e1e1e" stroke="#1e1e1e" stroke-width="0.14" >348 K</text>
<text x="574.90" y="23.5" font-size="8.1" fill="#1e1e1e" stroke="#1e1e1e" stroke-width="0.14"><tspan font-size="6.6" dy="-1.3">*</tspan><tspan dy="1.3">CO</tspan><tspan font-size="5.9" dy="2.0">atop</tspan></text>
<text x="605.50" y="23.9" font-size="7.9" fill="#1e1e1e" stroke="#1e1e1e" stroke-width="0.14">Pd-Cu<tspan font-size="4.84" dy="1.72">2</tspan><tspan dy="-1.72">O/PTFE</tspan></text>
<text x="642.50" y="150.20" font-size="8.2" text-anchor="middle" fill="#9e1f62" stroke="#9e1f62" stroke-width="0.14" >OCP</text>
<text x="597.05" y="191.70" font-size="8.5" text-anchor="middle" fill="#222" stroke="#222" stroke-width="0.14">Raman shift (cm<tspan font-size="5.3" dy="-3">-1</tspan><tspan dy="3">)</tspan></text>
<text transform="translate(523.00,89.50) rotate(-90)" font-size="8.7" text-anchor="middle" fill="#222" stroke="#222" stroke-width="0.14">Intensity (a.u.)</text>
<defs><linearGradient id="cb" x1="0" y1="0" x2="0" y2="1"><stop offset="0" stop-color="#46408e"/><stop offset="0.1" stop-color="#6050a0"/><stop offset="0.25" stop-color="#3c86bf"/><stop offset="0.38" stop-color="#62bda6"/><stop offset="0.47" stop-color="#c4e4a2"/><stop offset="0.54" stop-color="#fef4b6"/><stop offset="0.64" stop-color="#fdbe6e"/><stop offset="0.75" stop-color="#f47a4c"/><stop offset="0.87" stop-color="#d43d52"/><stop offset="1" stop-color="#951560"/></linearGradient></defs>
<rect x="670.3" y="32" width="5.1" height="112.6" fill="url(#cb)"/>
<text x="662.30" y="27.80" font-size="8.6" text-anchor="start" fill="#5e4fa2" stroke="#5e4fa2" stroke-width="0.14" >-1.4 V</text>
<text x="662.00" y="157.30" font-size="8.6" text-anchor="start" fill="#d53e4f" stroke="#d53e4f" stroke-width="0.14" >-0.2 V</text>
<text transform="translate(677.7,86.6) rotate(90)" font-size="8.9" text-anchor="middle" fill="#222" stroke="#222" stroke-width="0.14">Potential (vs. RHE)</text>
<rect x="38.4" y="224.1" width="178.60" height="144.20" fill="none" stroke="#7a7a7a" stroke-width="1.1"/>
<line x1="37.90" y1="368.5" x2="217.50" y2="368.5" stroke="#3e3e3e" stroke-width="1"/>
<line x1="35.8" y1="224.10" x2="38.4" y2="224.10" stroke="#6e6e6e" stroke-width="1"/>
<text x="34.20" y="227.00" font-size="8.3" text-anchor="end" fill="#222" stroke="#222" stroke-width="0.14" >-0.6</text>
<line x1="35.8" y1="265.30" x2="38.4" y2="265.30" stroke="#6e6e6e" stroke-width="1"/>
<text x="34.20" y="268.20" font-size="8.3" text-anchor="end" fill="#222" stroke="#222" stroke-width="0.14" >-0.8</text>
<line x1="35.8" y1="306.50" x2="38.4" y2="306.50" stroke="#6e6e6e" stroke-width="1"/>
<text x="34.20" y="309.40" font-size="8.3" text-anchor="end" fill="#222" stroke="#222" stroke-width="0.14" >-1.0</text>
<line x1="35.8" y1="347.70" x2="38.4" y2="347.70" stroke="#6e6e6e" stroke-width="1"/>
<text x="34.20" y="350.60" font-size="8.3" text-anchor="end" fill="#222" stroke="#222" stroke-width="0.14" >-1.2</text>
<line x1="36.8" y1="244.70" x2="38.4" y2="244.70" stroke="#6e6e6e" stroke-width="0.9"/>
<line x1="36.8" y1="285.90" x2="38.4" y2="285.90" stroke="#6e6e6e" stroke-width="0.9"/>
<line x1="36.8" y1="327.10" x2="38.4" y2="327.10" stroke="#6e6e6e" stroke-width="0.9"/>
<line x1="38.40" y1="368.3" x2="38.40" y2="370.90000000000003" stroke="#6e6e6e" stroke-width="1"/>
<text x="38.40" y="379.20" font-size="8.3" text-anchor="middle" fill="#222" stroke="#222" stroke-width="0.14" >-1.7</text>
<line x1="60.73" y1="368.3" x2="60.73" y2="369.90000000000003" stroke="#6e6e6e" stroke-width="0.9"/>
<line x1="83.05" y1="368.3" x2="83.05" y2="370.90000000000003" stroke="#6e6e6e" stroke-width="1"/>
<text x="83.05" y="379.20" font-size="8.3" text-anchor="middle" fill="#222" stroke="#222" stroke-width="0.14" >-1.6</text>
<line x1="105.37" y1="368.3" x2="105.37" y2="369.90000000000003" stroke="#6e6e6e" stroke-width="0.9"/>
<line x1="127.70" y1="368.3" x2="127.70" y2="370.90000000000003" stroke="#6e6e6e" stroke-width="1"/>
<text x="127.70" y="379.20" font-size="8.3" text-anchor="middle" fill="#222" stroke="#222" stroke-width="0.14" >-1.5</text>
<line x1="150.03" y1="368.3" x2="150.03" y2="369.90000000000003" stroke="#6e6e6e" stroke-width="0.9"/>
<line x1="172.35" y1="368.3" x2="172.35" y2="370.90000000000003" stroke="#6e6e6e" stroke-width="1"/>
<text x="172.35" y="379.20" font-size="8.3" text-anchor="middle" fill="#222" stroke="#222" stroke-width="0.14" >-1.4</text>
<line x1="194.68" y1="368.3" x2="194.68" y2="369.90000000000003" stroke="#6e6e6e" stroke-width="0.9"/>
<line x1="217.00" y1="368.3" x2="217.00" y2="370.90000000000003" stroke="#6e6e6e" stroke-width="1"/>
<text x="217.00" y="379.20" font-size="8.3" text-anchor="middle" fill="#222" stroke="#222" stroke-width="0.14" >-1.3</text>
<text x="127.20" y="391.3" font-size="8.1" text-anchor="middle" fill="#222" stroke="#222" stroke-width="0.14"><tspan font-size="6.4" dy="-1.5">*</tspan><tspan dy="1.5">CO Adsorption Free Energy (eV)</tspan></text>
<text transform="translate(13.8,288.7) rotate(-90)" font-size="7.9" text-anchor="middle" fill="#222" stroke="#222" stroke-width="0.14"><tspan font-size="6.3" dy="-1.5">*</tspan><tspan dy="1.5">H Adsorption Free Energy (eV)</tspan></text>
<text x="-1.00" y="223.50" font-size="17" text-anchor="start" fill="#111" stroke="#111" stroke-width="0.14" >e</text>
<line x1="42.3" y1="232.2" x2="61.5" y2="232.2" stroke="#2f7ac2" stroke-width="1.1" stroke-dasharray="2.4,1.6"/>
<rect x="50.1" y="230" width="4.4" height="4.4" fill="#3a7cc0"/>
<text x="63.4" y="235.1" font-size="8.2" fill="#222" stroke="#222" stroke-width="0.14">Cu<tspan font-size="5.08" dy="1.80">2</tspan><tspan dy="-1.80">O</tspan></text>
<line x1="43" y1="244" x2="60.7" y2="244" stroke="#e8505a" stroke-width="1"/>
<circle cx="52.3" cy="244" r="2.5" fill="#e84048"/>
<text x="63.6" y="246.9" font-size="8.2" fill="#222" stroke="#222" stroke-width="0.14">Pd-Cu<tspan font-size="5.08" dy="1.80">2</tspan><tspan dy="-1.80">O</tspan></text>
<line x1="64.1" y1="271.5" x2="102.8" y2="265.5" stroke="#e84a55" stroke-width="1"/>
<circle cx="64.1" cy="271.5" r="2.2" fill="#fff" stroke="#e84048" stroke-width="1.1"/>
<circle cx="102.8" cy="265.5" r="2.6" fill="#e84048"/>
<text x="53.60" y="286.60" font-size="8.4" text-anchor="start" fill="#222" stroke="#222" stroke-width="0.14" >298 K</text>
<text x="103.00" y="278.20" font-size="8.4" text-anchor="start" fill="#222" stroke="#222" stroke-width="0.14" >348 K</text>
<line x1="139.4" y1="324.9" x2="177.6" y2="318.8" stroke="#2f7ac2" stroke-width="1.2" stroke-dasharray="2.6,1.6"/>
<rect x="137.4" y="322.9" width="4" height="4" fill="#fff" stroke="#3a7cc0" stroke-width="1.1"/>
<rect x="175.3" y="316.5" width="4.6" height="4.6" fill="#3a7cc0"/>
<text x="117.80" y="319.20" font-size="8.4" text-anchor="start" fill="#222" stroke="#222" stroke-width="0.14" >298 K</text>
<text x="166.90" y="310.80" font-size="8.4" text-anchor="start" fill="#222" stroke="#222" stroke-width="0.14" >348 K</text>
<defs>
<radialGradient id="cu" cx="0.55" cy="0.5" r="0.62"><stop offset="0" stop-color="#ffd878"/><stop offset="0.22" stop-color="#f29a22"/><stop offset="0.7" stop-color="#dc800c"/><stop offset="1" stop-color="#9a5200"/></radialGradient>
<radialGradient id="pd" cx="0.35" cy="0.35" r="0.7"><stop offset="0" stop-color="#ffffff"/><stop offset="0.5" stop-color="#cfd2cf"/><stop offset="1" stop-color="#8a8e8a"/></radialGradient>
<radialGradient id="ox" cx="0.35" cy="0.35" r="0.7"><stop offset="0" stop-color="#ff8080"/><stop offset="0.5" stop-color="#e01818"/><stop offset="1" stop-color="#a00808"/></radialGradient>
<clipPath id="clCO"><circle cx="83.1" cy="329.7" r="24.6"/></clipPath>
<clipPath id="clH"><circle cx="173.65" cy="263" r="24.6"/></clipPath>
</defs>
<g clip-path="url(#clCO)"><line x1="58.8" y1="331.4" x2="75.6" y2="335.6" stroke="#e07818" stroke-width="1.8"/><line x1="108" y1="331.4" x2="92.7" y2="334.9" stroke="#e07818" stroke-width="1.8"/><line x1="74.2" y1="344" x2="84" y2="351.7" stroke="#e07818" stroke-width="1.8"/><line x1="92.1" y1="347.5" x2="84" y2="351.7" stroke="#e07818" stroke-width="1.8"/><line x1="75.6" y1="335.6" x2="74.2" y2="344" stroke="#e07818" stroke-width="1.8"/><line x1="92.7" y1="334.9" x2="92.7" y2="344" stroke="#e07818" stroke-width="1.8"/><line x1="66.9" y1="335.8" x2="60.7" y2="333.9" stroke="#e01c1c" stroke-width="1.7" stroke-linecap="round"/><line x1="66.9" y1="335.8" x2="73.9" y2="333.1" stroke="#e01c1c" stroke-width="1.7" stroke-linecap="round"/><line x1="66.9" y1="335.8" x2="61.3" y2="338.7" stroke="#e01c1c" stroke-width="1.7" stroke-linecap="round"/><line x1="66.9" y1="335.8" x2="66.1" y2="330.5" stroke="#e01c1c" stroke-width="1.7" stroke-linecap="round"/><line x1="69.9" y1="339.6" x2="63.1" y2="344.7" stroke="#e01c1c" stroke-width="1.7" stroke-linecap="round"/><line x1="69.9" y1="339.6" x2="74.7" y2="344.2" stroke="#e01c1c" stroke-width="1.7" stroke-linecap="round"/><line x1="69.9" y1="339.6" x2="76.3" y2="337.9" stroke="#e01c1c" stroke-width="1.7" stroke-linecap="round"/><line x1="66.9" y1="335.8" x2="69.9" y2="339.6" stroke="#e01c1c" stroke-width="1.7" stroke-linecap="round"/><line x1="69.9" y1="339.6" x2="70.3" y2="345.5" stroke="#e01c1c" stroke-width="1.7" stroke-linecap="round"/><circle cx="66.9" cy="335.8" r="1.7" fill="url(#ox)"/><circle cx="69.9" cy="339.6" r="2.0" fill="url(#ox)"/><line x1="98.0" y1="335.8" x2="91.8" y2="333.9" stroke="#e01c1c" stroke-width="1.7" stroke-linecap="round"/><line x1="98.0" y1="335.8" x2="105.0" y2="333.1" stroke="#e01c1c" stroke-width="1.7" stroke-linecap="round"/><line x1="98.0" y1="335.8" x2="92.4" y2="338.7" stroke="#e01c1c" stroke-width="1.7" stroke-linecap="round"/><line x1="98.0" y1="335.8" x2="97.2" y2="330.5" stroke="#e01c1c" stroke-width="1.7" stroke-linecap="round"/><line x1="101.0" y1="339.6" x2="94.2" y2="344.7" stroke="#e01c1c" stroke-width="1.7" stroke-linecap="round"/><line x1="101.0" y1="339.6" x2="105.8" y2="344.2" stroke="#e01c1c" stroke-width="1.7" stroke-linecap="round"/><line x1="101.0" y1="339.6" x2="107.4" y2="337.9" stroke="#e01c1c" stroke-width="1.7" stroke-linecap="round"/><line x1="98.0" y1="335.8" x2="101.0" y2="339.6" stroke="#e01c1c" stroke-width="1.7" stroke-linecap="round"/><line x1="101.0" y1="339.6" x2="101.4" y2="345.5" stroke="#e01c1c" stroke-width="1.7" stroke-linecap="round"/><circle cx="98.0" cy="335.8" r="1.7" fill="url(#ox)"/><circle cx="101.0" cy="339.6" r="2.0" fill="url(#ox)"/><line x1="82.8" y1="351.1" x2="78.2" y2="349.6" stroke="#e01c1c" stroke-width="1.7" stroke-linecap="round"/><line x1="82.8" y1="351.1" x2="88.0" y2="349.1" stroke="#e01c1c" stroke-width="1.7" stroke-linecap="round"/><line x1="82.8" y1="351.1" x2="78.6" y2="353.2" stroke="#e01c1c" stroke-width="1.7" stroke-linecap="round"/><line x1="82.8" y1="351.1" x2="82.2" y2="347.1" stroke="#e01c1c" stroke-width="1.7" stroke-linecap="round"/><line x1="85.1" y1="353.9" x2="80.0" y2="357.7" stroke="#e01c1c" stroke-width="1.7" stroke-linecap="round"/><line x1="85.1" y1="353.9" x2="88.7" y2="357.4" stroke="#e01c1c" stroke-width="1.7" stroke-linecap="round"/><line x1="85.1" y1="353.9" x2="89.8" y2="352.7" stroke="#e01c1c" stroke-width="1.7" stroke-linecap="round"/><line x1="82.8" y1="351.1" x2="85.1" y2="353.9" stroke="#e01c1c" stroke-width="1.7" stroke-linecap="round"/><line x1="85.1" y1="353.9" x2="85.3" y2="358.4" stroke="#e01c1c" stroke-width="1.7" stroke-linecap="round"/><circle cx="82.8" cy="351.1" r="1.7" fill="url(#ox)"/><circle cx="85.1" cy="353.9" r="2.0" fill="url(#ox)"/><circle cx="58.8" cy="331.4" r="4.0" fill="url(#cu)" stroke="#8a4800" stroke-width="0.45"/><circle cx="108.0" cy="331.4" r="4.0" fill="url(#cu)" stroke="#8a4800" stroke-width="0.45"/><circle cx="74.2" cy="344.0" r="4.0" fill="url(#cu)" stroke="#8a4800" stroke-width="0.45"/><circle cx="92.7" cy="344.0" r="4.0" fill="url(#cu)" stroke="#8a4800" stroke-width="0.45"/><circle cx="76.3" cy="346.5" r="4.0" fill="url(#cu)" stroke="#8a4800" stroke-width="0.45"/><circle cx="92.1" cy="347.5" r="4.0" fill="url(#cu)" stroke="#8a4800" stroke-width="0.45"/><circle cx="88.2" cy="331.4" r="4.0" fill="url(#cu)" stroke="#8a4800" stroke-width="0.45"/><circle cx="89.8" cy="328.5" r="4.1" fill="url(#pd)"/><circle cx="92.7" cy="334.9" r="4.0" fill="url(#cu)" stroke="#8a4800" stroke-width="0.45"/><circle cx="77.0" cy="329.3" r="4.0" fill="url(#cu)" stroke="#8a4800" stroke-width="0.45"/><circle cx="75.6" cy="335.6" r="4.0" fill="url(#cu)" stroke="#8a4800" stroke-width="0.45"/><circle cx="79.1" cy="333.5" r="4.0" fill="url(#cu)" stroke="#8a4800" stroke-width="0.45"/><line x1="83.3" y1="317.4" x2="77" y2="327" stroke="#a06848" stroke-width="1.1"/><line x1="83.3" y1="317.4" x2="89.2" y2="325.5" stroke="#a06848" stroke-width="1.1"/><line x1="81.5" y1="308.7" x2="83.3" y2="317.4" stroke="#c04030" stroke-width="1.1"/><circle cx="81.5" cy="308.7" r="1.9" fill="url(#ox)"/><circle cx="83.3" cy="317.4" r="1.6" fill="#9a6a4a"/></g>
<circle cx="83.1" cy="329.7" r="24.9" fill="none" stroke="#f2509f" stroke-width="0.9"/>
<text x="85.2" y="319.4" font-size="8.4" fill="#151515" stroke="#151515" stroke-width="0.14"><tspan font-size="6.3" dy="-1.5">*</tspan><tspan dy="1.5">CO</tspan></text>
<g clip-path="url(#clH)"><line x1="162.1" y1="273.8" x2="172.6" y2="284.3" stroke="#e07818" stroke-width="1.8"/><line x1="183.5" y1="278.7" x2="172.6" y2="284.3" stroke="#e07818" stroke-width="1.8"/><line x1="165.6" y1="266.5" x2="162.1" y2="273.8" stroke="#e07818" stroke-width="1.8"/><line x1="184.1" y1="264" x2="181.7" y2="273.8" stroke="#e07818" stroke-width="1.8"/><line x1="150" y1="262" x2="164.9" y2="257.7" stroke="#e07818" stroke-width="1.8"/><line x1="197" y1="262" x2="184.1" y2="264" stroke="#e07818" stroke-width="1.8"/><line x1="152.9" y1="264.9" x2="146.7" y2="263.0" stroke="#e01c1c" stroke-width="1.7" stroke-linecap="round"/><line x1="152.9" y1="264.9" x2="159.9" y2="262.2" stroke="#e01c1c" stroke-width="1.7" stroke-linecap="round"/><line x1="152.9" y1="264.9" x2="147.3" y2="267.8" stroke="#e01c1c" stroke-width="1.7" stroke-linecap="round"/><line x1="152.9" y1="264.9" x2="152.1" y2="259.6" stroke="#e01c1c" stroke-width="1.7" stroke-linecap="round"/><line x1="155.9" y1="268.7" x2="149.1" y2="273.8" stroke="#e01c1c" stroke-width="1.7" stroke-linecap="round"/><line x1="155.9" y1="268.7" x2="160.7" y2="273.3" stroke="#e01c1c" stroke-width="1.7" stroke-linecap="round"/><line x1="155.9" y1="268.7" x2="162.3" y2="267.0" stroke="#e01c1c" stroke-width="1.7" stroke-linecap="round"/><line x1="152.9" y1="264.9" x2="155.9" y2="268.7" stroke="#e01c1c" stroke-width="1.7" stroke-linecap="round"/><line x1="155.9" y1="268.7" x2="156.3" y2="274.6" stroke="#e01c1c" stroke-width="1.7" stroke-linecap="round"/><circle cx="152.9" cy="264.9" r="1.7" fill="url(#ox)"/><circle cx="155.9" cy="268.7" r="2.0" fill="url(#ox)"/><line x1="190.6" y1="264.2" x2="184.4" y2="262.3" stroke="#e01c1c" stroke-width="1.7" stroke-linecap="round"/><line x1="190.6" y1="264.2" x2="197.6" y2="261.5" stroke="#e01c1c" stroke-width="1.7" stroke-linecap="round"/><line x1="190.6" y1="264.2" x2="185.0" y2="267.1" stroke="#e01c1c" stroke-width="1.7" stroke-linecap="round"/><line x1="190.6" y1="264.2" x2="189.8" y2="258.9" stroke="#e01c1c" stroke-width="1.7" stroke-linecap="round"/><line x1="193.6" y1="268.0" x2="186.8" y2="273.1" stroke="#e01c1c" stroke-width="1.7" stroke-linecap="round"/><line x1="193.6" y1="268.0" x2="198.4" y2="272.6" stroke="#e01c1c" stroke-width="1.7" stroke-linecap="round"/><line x1="193.6" y1="268.0" x2="200.0" y2="266.3" stroke="#e01c1c" stroke-width="1.7" stroke-linecap="round"/><line x1="190.6" y1="264.2" x2="193.6" y2="268.0" stroke="#e01c1c" stroke-width="1.7" stroke-linecap="round"/><line x1="193.6" y1="268.0" x2="194.0" y2="273.9" stroke="#e01c1c" stroke-width="1.7" stroke-linecap="round"/><circle cx="190.6" cy="264.2" r="1.7" fill="url(#ox)"/><circle cx="193.6" cy="268.0" r="2.0" fill="url(#ox)"/><line x1="171.4" y1="283.6" x2="166.8" y2="282.1" stroke="#e01c1c" stroke-width="1.7" stroke-linecap="round"/><line x1="171.4" y1="283.6" x2="176.7" y2="281.6" stroke="#e01c1c" stroke-width="1.7" stroke-linecap="round"/><line x1="171.4" y1="283.6" x2="167.2" y2="285.7" stroke="#e01c1c" stroke-width="1.7" stroke-linecap="round"/><line x1="171.4" y1="283.6" x2="170.8" y2="279.6" stroke="#e01c1c" stroke-width="1.7" stroke-linecap="round"/><line x1="173.7" y1="286.4" x2="168.5" y2="290.2" stroke="#e01c1c" stroke-width="1.7" stroke-linecap="round"/><line x1="173.7" y1="286.4" x2="177.3" y2="289.9" stroke="#e01c1c" stroke-width="1.7" stroke-linecap="round"/><line x1="173.7" y1="286.4" x2="178.4" y2="285.2" stroke="#e01c1c" stroke-width="1.7" stroke-linecap="round"/><line x1="171.4" y1="283.6" x2="173.7" y2="286.4" stroke="#e01c1c" stroke-width="1.7" stroke-linecap="round"/><line x1="173.7" y1="286.4" x2="173.9" y2="290.9" stroke="#e01c1c" stroke-width="1.7" stroke-linecap="round"/><circle cx="171.4" cy="283.6" r="1.7" fill="url(#ox)"/><circle cx="173.7" cy="286.4" r="2.0" fill="url(#ox)"/><circle cx="162.1" cy="273.8" r="4.0" fill="url(#cu)" stroke="#8a4800" stroke-width="0.45"/><circle cx="181.7" cy="273.8" r="4.0" fill="url(#cu)" stroke="#8a4800" stroke-width="0.45"/><circle cx="166.3" cy="277.3" r="4.0" fill="url(#cu)" stroke="#8a4800" stroke-width="0.45"/><circle cx="183.5" cy="278.7" r="4.0" fill="url(#cu)" stroke="#8a4800" stroke-width="0.45"/><circle cx="176.1" cy="257.0" r="4.0" fill="url(#cu)" stroke="#8a4800" stroke-width="0.45"/><circle cx="182.1" cy="258.4" r="4.2" fill="url(#pd)"/><circle cx="184.1" cy="264.0" r="4.0" fill="url(#cu)" stroke="#8a4800" stroke-width="0.45"/><circle cx="164.9" cy="257.7" r="4.0" fill="url(#cu)" stroke="#8a4800" stroke-width="0.45"/><circle cx="168.4" cy="261.9" r="4.0" fill="url(#cu)" stroke="#8a4800" stroke-width="0.45"/><circle cx="165.6" cy="266.5" r="4.0" fill="url(#cu)" stroke="#8a4800" stroke-width="0.45"/><line x1="173.7" y1="250" x2="168.6" y2="254.8" stroke="#f0c8c8" stroke-width="1"/><line x1="173.7" y1="250" x2="176.6" y2="254.2" stroke="#f0c8c8" stroke-width="1"/><circle cx="173.7" cy="250" r="1.8" fill="#fbeaea" stroke="#e8c0c0" stroke-width="0.5"/></g>
<circle cx="173.65" cy="263" r="24.9" fill="none" stroke="#f2509f" stroke-width="0.9"/>
<text x="177.7" y="251.8" font-size="8.4" fill="#151515" stroke="#151515" stroke-width="0.14"><tspan font-size="6.3" dy="-1.5">*</tspan><tspan dy="1.5">H</tspan></text>
<rect x="270.3" y="224.2" width="176.00" height="144.10" fill="none" stroke="#7a7a7a" stroke-width="1.1"/>
<line x1="269.80" y1="368.5" x2="446.80" y2="368.5" stroke="#3e3e3e" stroke-width="1"/>
<line x1="267.7" y1="355.20" x2="270.3" y2="355.20" stroke="#6e6e6e" stroke-width="1"/>
<text x="266.30" y="358.00" font-size="7.8" text-anchor="end" fill="#222" stroke="#222" stroke-width="0.14" >0.0</text>
<line x1="267.7" y1="329.00" x2="270.3" y2="329.00" stroke="#6e6e6e" stroke-width="1"/>
<text x="266.30" y="331.80" font-size="7.8" text-anchor="end" fill="#222" stroke="#222" stroke-width="0.14" >0.4</text>
<line x1="267.7" y1="302.80" x2="270.3" y2="302.80" stroke="#6e6e6e" stroke-width="1"/>
<text x="266.30" y="305.60" font-size="7.8" text-anchor="end" fill="#222" stroke="#222" stroke-width="0.14" >0.8</text>
<line x1="267.7" y1="276.60" x2="270.3" y2="276.60" stroke="#6e6e6e" stroke-width="1"/>
<text x="266.30" y="279.40" font-size="7.8" text-anchor="end" fill="#222" stroke="#222" stroke-width="0.14" >1.2</text>
<line x1="267.7" y1="250.40" x2="270.3" y2="250.40" stroke="#6e6e6e" stroke-width="1"/>
<text x="266.30" y="253.20" font-size="7.8" text-anchor="end" fill="#222" stroke="#222" stroke-width="0.14" >1.6</text>
<line x1="267.7" y1="224.20" x2="270.3" y2="224.20" stroke="#6e6e6e" stroke-width="1"/>
<text x="266.30" y="227.00" font-size="7.8" text-anchor="end" fill="#222" stroke="#222" stroke-width="0.14" >2.0</text>
<line x1="268.7" y1="368.29" x2="270.3" y2="368.29" stroke="#6e6e6e" stroke-width="0.9"/>
<line x1="268.7" y1="342.10" x2="270.3" y2="342.10" stroke="#6e6e6e" stroke-width="0.9"/>
<line x1="268.7" y1="315.90" x2="270.3" y2="315.90" stroke="#6e6e6e" stroke-width="0.9"/>
<line x1="268.7" y1="289.70" x2="270.3" y2="289.70" stroke="#6e6e6e" stroke-width="0.9"/>
<line x1="268.7" y1="263.50" x2="270.3" y2="263.50" stroke="#6e6e6e" stroke-width="0.9"/>
<line x1="268.7" y1="237.30" x2="270.3" y2="237.30" stroke="#6e6e6e" stroke-width="0.9"/>
<text transform="translate(246.60,279.7) rotate(-90)" font-size="8.1" text-anchor="middle" fill="#222" stroke="#222" stroke-width="0.14">Free Energy (eV)</text>
<text x="235.00" y="223.50" font-size="17" text-anchor="start" fill="#111" stroke="#111" stroke-width="0.14" >f</text>
<text x="282.80" y="364.1" font-size="7.7" fill="#222" stroke="#222" stroke-width="0.14"><tspan font-size="6.2" dy="-1.4">*</tspan><tspan dy="1.4">CO + </tspan><tspan font-size="6.2" dy="-1.4">*</tspan><tspan dy="1.4">COH</tspan></text>
<text x="359.90" y="364.20" font-size="7.6" text-anchor="middle" fill="#e0405a" stroke="#e0405a" stroke-width="0.14" >TS</text>
<text x="405.40" y="364.1" font-size="7.7" fill="#222" stroke="#222" stroke-width="0.14"><tspan font-size="6.2" dy="-1.4">*</tspan><tspan dy="1.4">OCCOH</tspan></text>
<text x="323.30" y="381.10" font-size="8.2" text-anchor="start" fill="#222" stroke="#222" stroke-width="0.14" >Reaction Coordinate</text>
<rect x="344.7" y="240.4" width="30.4" height="1.8" fill="#fbf6cc"/>
<rect x="344.7" y="262.2" width="30.4" height="13.2" fill="#fcf8d2"/>
<rect x="344.7" y="286.1" width="30.4" height="9.7" fill="#fcf8d2"/>
<line x1="315.5" y1="355.20" x2="344.7" y2="243.85" stroke="#f6b4b4" stroke-width="0.75" stroke-dasharray="1.3,0.9"/>
<line x1="375.1" y1="243.85" x2="404.5" y2="296.90" stroke="#f6b4b4" stroke-width="0.75" stroke-dasharray="1.3,0.9"/>
<line x1="344.7" y1="243.85" x2="375.1" y2="243.85" stroke="#f6b4b4" stroke-width="1.6"/>
<line x1="404.5" y1="296.90" x2="434.7" y2="296.90" stroke="#f6b4b4" stroke-width="1.6"/>
<line x1="285.1" y1="355.20" x2="315.5" y2="355.20" stroke="#f6b4b4" stroke-width="1.6"/>
<line x1="315.5" y1="355.20" x2="344.7" y2="242.54" stroke="#aec4e4" stroke-width="0.75" stroke-dasharray="1.3,0.9"/>
<line x1="375.1" y1="242.54" x2="404.5" y2="305.42" stroke="#aec4e4" stroke-width="0.75" stroke-dasharray="1.3,0.9"/>
<line x1="344.7" y1="242.54" x2="375.1" y2="242.54" stroke="#aec4e4" stroke-width="1.6"/>
<line x1="404.5" y1="305.42" x2="434.7" y2="305.42" stroke="#aec4e4" stroke-width="1.6"/>
<line x1="285.1" y1="355.20" x2="315.5" y2="355.20" stroke="#aec4e4" stroke-width="1.6"/>
<line x1="315.5" y1="355.20" x2="344.7" y2="260.88" stroke="#f07c7c" stroke-width="0.75" stroke-dasharray="1.3,0.9"/>
<line x1="375.1" y1="260.88" x2="404.5" y2="314.59" stroke="#f07c7c" stroke-width="0.75" stroke-dasharray="1.3,0.9"/>
<line x1="344.7" y1="260.88" x2="375.1" y2="260.88" stroke="#f07c7c" stroke-width="1.6"/>
<line x1="404.5" y1="314.59" x2="434.7" y2="314.59" stroke="#f07c7c" stroke-width="1.6"/>
<line x1="285.1" y1="355.20" x2="315.5" y2="355.20" stroke="#f07c7c" stroke-width="1.6"/>
<line x1="315.5" y1="355.20" x2="344.7" y2="276.60" stroke="#5a88c8" stroke-width="0.75" stroke-dasharray="1.3,0.9"/>
<line x1="375.1" y1="276.60" x2="404.5" y2="308.69" stroke="#5a88c8" stroke-width="0.75" stroke-dasharray="1.3,0.9"/>
<line x1="344.7" y1="276.60" x2="375.1" y2="276.60" stroke="#5a88c8" stroke-width="1.6"/>
<line x1="404.5" y1="308.69" x2="434.7" y2="308.69" stroke="#5a88c8" stroke-width="1.6"/>
<line x1="285.1" y1="355.20" x2="315.5" y2="355.20" stroke="#5a88c8" stroke-width="1.6"/>
<line x1="315.5" y1="355.20" x2="344.7" y2="288.72" stroke="#ff2a20" stroke-width="0.75" stroke-dasharray="1.3,0.9"/>
<line x1="375.1" y1="288.72" x2="404.5" y2="324.42" stroke="#ff2a20" stroke-width="0.75" stroke-dasharray="1.3,0.9"/>
<line x1="344.7" y1="288.72" x2="375.1" y2="288.72" stroke="#ff2a20" stroke-width="1.6"/>
<line x1="404.5" y1="324.42" x2="434.7" y2="324.42" stroke="#ff2a20" stroke-width="1.6"/>
<line x1="285.1" y1="355.20" x2="315.5" y2="355.20" stroke="#ff2a20" stroke-width="1.6"/>
<line x1="315.5" y1="355.20" x2="344.7" y2="292.98" stroke="#334b7a" stroke-width="0.75" stroke-dasharray="1.3,0.9"/>
<line x1="375.1" y1="292.98" x2="404.5" y2="314.92" stroke="#334b7a" stroke-width="0.75" stroke-dasharray="1.3,0.9"/>
<line x1="344.7" y1="292.98" x2="375.1" y2="292.98" stroke="#334b7a" stroke-width="1.6"/>
<line x1="404.5" y1="314.92" x2="434.7" y2="314.92" stroke="#334b7a" stroke-width="1.6"/>
<line x1="285.1" y1="355.20" x2="315.5" y2="355.20" stroke="#334b7a" stroke-width="1.6"/>
<text x="359.90" y="238.30" font-size="7.7" text-anchor="middle" fill="#222" stroke="#222" stroke-width="0.14" >1/18 ML</text>
<text x="359.90" y="272.00" font-size="7.7" text-anchor="middle" fill="#222" stroke="#222" stroke-width="0.14" >3/18 ML</text>
<text x="359.90" y="303.00" font-size="7.7" text-anchor="middle" fill="#222" stroke="#222" stroke-width="0.14" >5/18 ML</text>
<line x1="278.2" y1="232.5" x2="290.1" y2="232.5" stroke="#f04a4a" stroke-width="1"/>
<text x="293.3" y="235.4" font-size="8.4" fill="#222" stroke="#222" stroke-width="0.14">Cu<tspan font-size="5.21" dy="1.85">2</tspan><tspan dy="-1.85">O</tspan></text>
<line x1="394" y1="232.6" x2="406.7" y2="232.6" stroke="#4a6aa8" stroke-width="1"/>
<text x="410.6" y="235.5" font-size="8.5" fill="#222" stroke="#222" stroke-width="0.14">Pd-Cu<tspan font-size="5.27" dy="1.87">2</tspan><tspan dy="-1.87">O</tspan></text>
<rect x="502.2" y="224.2" width="178.80" height="144.10" fill="none" stroke="#7a7a7a" stroke-width="1.1"/>
<line x1="501.70" y1="368.5" x2="681.50" y2="368.5" stroke="#3e3e3e" stroke-width="1"/>
<line x1="499.59999999999997" y1="355.20" x2="502.2" y2="355.20" stroke="#6e6e6e" stroke-width="1"/>
<text x="498.20" y="358.00" font-size="7.8" text-anchor="end" fill="#222" stroke="#222" stroke-width="0.14" >0.0</text>
<line x1="499.59999999999997" y1="329.00" x2="502.2" y2="329.00" stroke="#6e6e6e" stroke-width="1"/>
<text x="498.20" y="331.80" font-size="7.8" text-anchor="end" fill="#222" stroke="#222" stroke-width="0.14" >0.4</text>
<line x1="499.59999999999997" y1="302.80" x2="502.2" y2="302.80" stroke="#6e6e6e" stroke-width="1"/>
<text x="498.20" y="305.60" font-size="7.8" text-anchor="end" fill="#222" stroke="#222" stroke-width="0.14" >0.8</text>
<line x1="499.59999999999997" y1="276.60" x2="502.2" y2="276.60" stroke="#6e6e6e" stroke-width="1"/>
<text x="498.20" y="279.40" font-size="7.8" text-anchor="end" fill="#222" stroke="#222" stroke-width="0.14" >1.2</text>
<line x1="499.59999999999997" y1="250.40" x2="502.2" y2="250.40" stroke="#6e6e6e" stroke-width="1"/>
<text x="498.20" y="253.20" font-size="7.8" text-anchor="end" fill="#222" stroke="#222" stroke-width="0.14" >1.6</text>
<line x1="499.59999999999997" y1="224.20" x2="502.2" y2="224.20" stroke="#6e6e6e" stroke-width="1"/>
<text x="498.20" y="227.00" font-size="7.8" text-anchor="end" fill="#222" stroke="#222" stroke-width="0.14" >2.0</text>
<line x1="500.59999999999997" y1="368.29" x2="502.2" y2="368.29" stroke="#6e6e6e" stroke-width="0.9"/>
<line x1="500.59999999999997" y1="342.10" x2="502.2" y2="342.10" stroke="#6e6e6e" stroke-width="0.9"/>
<line x1="500.59999999999997" y1="315.90" x2="502.2" y2="315.90" stroke="#6e6e6e" stroke-width="0.9"/>
<line x1="500.59999999999997" y1="289.70" x2="502.2" y2="289.70" stroke="#6e6e6e" stroke-width="0.9"/>
<line x1="500.59999999999997" y1="263.50" x2="502.2" y2="263.50" stroke="#6e6e6e" stroke-width="0.9"/>
<line x1="500.59999999999997" y1="237.30" x2="502.2" y2="237.30" stroke="#6e6e6e" stroke-width="0.9"/>
<text transform="translate(478.60,279.7) rotate(-90)" font-size="8.1" text-anchor="middle" fill="#222" stroke="#222" stroke-width="0.14">Free Energy (eV)</text>
<text x="463.30" y="223.50" font-size="17" text-anchor="start" fill="#111" stroke="#111" stroke-width="0.14" >g</text>
<text x="514.60" y="364.1" font-size="7.7" fill="#222" stroke="#222" stroke-width="0.14"><tspan font-size="6.2" dy="-1.4">*</tspan><tspan dy="1.4">CO + </tspan><tspan font-size="6.2" dy="-1.4">*</tspan><tspan dy="1.4">COH</tspan></text>
<text x="591.75" y="364.20" font-size="7.6" text-anchor="middle" fill="#e0405a" stroke="#e0405a" stroke-width="0.14" >TS</text>
<text x="636.90" y="364.1" font-size="7.7" fill="#222" stroke="#222" stroke-width="0.14"><tspan font-size="6.2" dy="-1.4">*</tspan><tspan dy="1.4">OCCOH</tspan></text>
<text x="555.20" y="381.10" font-size="8.2" text-anchor="start" fill="#222" stroke="#222" stroke-width="0.14" >Reaction Coordinate</text>
<line x1="546.8" y1="355.20" x2="576.6" y2="243.19" stroke="#fdd29a" stroke-width="0.75" stroke-dasharray="1.3,0.9"/>
<line x1="606.9" y1="243.19" x2="636.0" y2="296.90" stroke="#fdd29a" stroke-width="0.75" stroke-dasharray="1.3,0.9"/>
<line x1="576.6" y1="243.19" x2="606.9" y2="243.19" stroke="#fdd29a" stroke-width="1.6"/>
<line x1="636.0" y1="296.90" x2="666.2" y2="296.90" stroke="#fdd29a" stroke-width="1.6"/>
<line x1="516.9" y1="355.20" x2="546.8" y2="355.20" stroke="#fdd29a" stroke-width="1.6"/>
<line x1="546.8" y1="355.20" x2="576.6" y2="242.54" stroke="#80c9a2" stroke-width="0.75" stroke-dasharray="1.3,0.9"/>
<line x1="606.9" y1="242.54" x2="636.0" y2="305.55" stroke="#80c9a2" stroke-width="0.75" stroke-dasharray="1.3,0.9"/>
<line x1="576.6" y1="242.54" x2="606.9" y2="242.54" stroke="#80c9a2" stroke-width="1.6"/>
<line x1="636.0" y1="305.55" x2="666.2" y2="305.55" stroke="#80c9a2" stroke-width="1.6"/>
<line x1="516.9" y1="355.20" x2="546.8" y2="355.20" stroke="#80c9a2" stroke-width="1.6"/>
<line x1="546.8" y1="355.20" x2="576.6" y2="250.40" stroke="#e8604c" stroke-width="0.75" stroke-dasharray="1.3,0.9"/>
<line x1="606.9" y1="250.40" x2="636.0" y2="304.37" stroke="#e8604c" stroke-width="0.75" stroke-dasharray="1.3,0.9"/>
<line x1="576.6" y1="250.40" x2="606.9" y2="250.40" stroke="#e8604c" stroke-width="1.6"/>
<line x1="636.0" y1="304.37" x2="666.2" y2="304.37" stroke="#e8604c" stroke-width="1.6"/>
<line x1="516.9" y1="355.20" x2="546.8" y2="355.20" stroke="#e8604c" stroke-width="1.6"/>
<line x1="546.8" y1="355.20" x2="576.6" y2="251.38" stroke="#3a7fc2" stroke-width="0.75" stroke-dasharray="1.3,0.9"/>
<line x1="606.9" y1="251.38" x2="636.0" y2="314.59" stroke="#3a7fc2" stroke-width="0.75" stroke-dasharray="1.3,0.9"/>
<line x1="576.6" y1="251.38" x2="606.9" y2="251.38" stroke="#3a7fc2" stroke-width="1.6"/>
<line x1="636.0" y1="314.59" x2="666.2" y2="314.59" stroke="#3a7fc2" stroke-width="1.6"/>
<line x1="516.9" y1="355.20" x2="546.8" y2="355.20" stroke="#3a7fc2" stroke-width="1.6"/>
<line x1="510.7" y1="231.1" x2="526.3" y2="231.1" stroke="#fdd0a0" stroke-width="1.1"/>
<text x="529.2" y="233.6" font-size="7.7" fill="#222" stroke="#222" stroke-width="0.14">Cu<tspan font-size="4.77" dy="1.69">2</tspan><tspan dy="-1.69">O-298 K</tspan></text>
<line x1="510.7" y1="241.4" x2="526.3" y2="241.4" stroke="#e8604c" stroke-width="0.95"/>
<text x="529.2" y="243.9" font-size="7.7" fill="#222" stroke="#222" stroke-width="0.14">Cu<tspan font-size="4.77" dy="1.69">2</tspan><tspan dy="-1.69">O-348 K</tspan></text>
<line x1="610.9" y1="231.0" x2="625.7" y2="231.0" stroke="#80c9a2" stroke-width="0.95"/>
<text x="628.5" y="233.6" font-size="7.5" fill="#222" stroke="#222" stroke-width="0.14">Pd-Cu<tspan font-size="4.65" dy="1.65">2</tspan><tspan dy="-1.65">O-298 K</tspan></text>
<line x1="610.9" y1="242.2" x2="625.7" y2="242.2" stroke="#3a7fc2" stroke-width="0.95"/>
<text x="628.5" y="244.7" font-size="7.5" fill="#222" stroke="#222" stroke-width="0.14">Pd-Cu<tspan font-size="4.65" dy="1.65">2</tspan><tspan dy="-1.65">O-348 K</tspan></text>
</svg></body></html>
